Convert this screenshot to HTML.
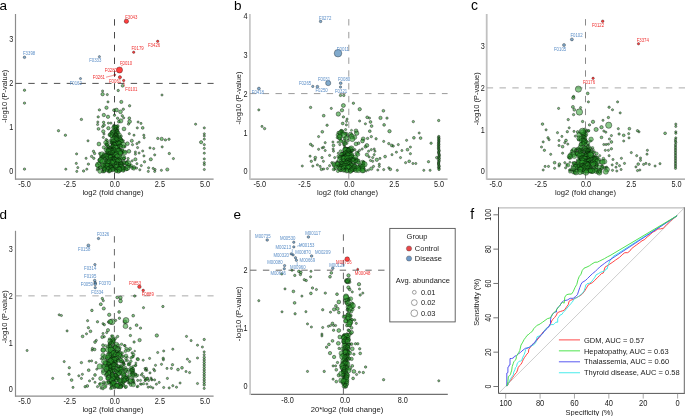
<!DOCTYPE html><html><head><meta charset="utf-8"><style>html,body{margin:0;padding:0;background:#fff;}svg{display:block;}#w{will-change:transform;width:685px;height:416px;overflow:hidden;}</style></head><body>
<div id="w">
<svg width="685" height="416" viewBox="0 0 685 416" font-family='"Liberation Sans", sans-serif'>
<rect width="685" height="416" fill="#fff"/><g>
<line x1="15.50" y1="179.20" x2="213.60" y2="179.20" stroke="#8c8c8c" stroke-width="1.2"/>
<line x1="15.50" y1="14.00" x2="15.50" y2="179.80" stroke="#8c8c8c" stroke-width="1.2"/>
<text x="11.20" y="173.76" font-size="8.91" text-anchor="middle" fill="#1a1a1a" textLength="4.06" lengthAdjust="spacingAndGlyphs">0</text>
<text x="11.20" y="129.96" font-size="8.91" text-anchor="middle" fill="#1a1a1a" textLength="4.06" lengthAdjust="spacingAndGlyphs">1</text>
<text x="11.20" y="86.16" font-size="8.91" text-anchor="middle" fill="#1a1a1a" textLength="4.06" lengthAdjust="spacingAndGlyphs">2</text>
<text x="11.20" y="42.36" font-size="8.91" text-anchor="middle" fill="#1a1a1a" textLength="4.06" lengthAdjust="spacingAndGlyphs">3</text>
<text x="24.60" y="187.36" font-size="8.91" text-anchor="middle" fill="#1a1a1a" textLength="12.58" lengthAdjust="spacingAndGlyphs">-5.0</text>
<text x="69.70" y="187.36" font-size="8.91" text-anchor="middle" fill="#1a1a1a" textLength="12.58" lengthAdjust="spacingAndGlyphs">-2.5</text>
<text x="114.80" y="187.36" font-size="8.91" text-anchor="middle" fill="#1a1a1a" textLength="10.15" lengthAdjust="spacingAndGlyphs">0.0</text>
<text x="159.90" y="187.36" font-size="8.91" text-anchor="middle" fill="#1a1a1a" textLength="10.15" lengthAdjust="spacingAndGlyphs">2.5</text>
<text x="205.00" y="187.36" font-size="8.91" text-anchor="middle" fill="#1a1a1a" textLength="10.15" lengthAdjust="spacingAndGlyphs">5.0</text>
<text x="113.00" y="195.12" font-size="7.65" text-anchor="middle" fill="#1a1a1a">log2 (fold change)</text>
<text x="4.20" y="98.84" font-size="7.45" text-anchor="middle" fill="#1a1a1a" transform="rotate(-90 4.20 96.20)">-log10 (P-value)</text>
<line x1="15.50" y1="83.40" x2="213.60" y2="83.40" stroke="#505050" stroke-width="1.0" stroke-dasharray="6.4 6.4"/>
<line x1="114.50" y1="179.20" x2="114.50" y2="14.00" stroke="#4a4a4a" stroke-width="1.0" stroke-dasharray="6.4 6.4"/>
<text x="-0.5" y="9.8" font-size="13.5" fill="#000">a</text>
<line x1="249.90" y1="179.10" x2="447.60" y2="179.10" stroke="#999" stroke-width="1.3"/>
<line x1="249.90" y1="14.00" x2="249.90" y2="179.75" stroke="#c8c8c8" stroke-width="1.8"/>
<text x="245.60" y="174.46" font-size="8.91" text-anchor="middle" fill="#1a1a1a" textLength="4.06" lengthAdjust="spacingAndGlyphs">0</text>
<text x="245.60" y="135.61" font-size="8.91" text-anchor="middle" fill="#1a1a1a" textLength="4.06" lengthAdjust="spacingAndGlyphs">1</text>
<text x="245.60" y="96.76" font-size="8.91" text-anchor="middle" fill="#1a1a1a" textLength="4.06" lengthAdjust="spacingAndGlyphs">2</text>
<text x="245.60" y="57.91" font-size="8.91" text-anchor="middle" fill="#1a1a1a" textLength="4.06" lengthAdjust="spacingAndGlyphs">3</text>
<text x="245.60" y="19.06" font-size="8.91" text-anchor="middle" fill="#1a1a1a" textLength="4.06" lengthAdjust="spacingAndGlyphs">4</text>
<text x="259.80" y="187.46" font-size="8.91" text-anchor="middle" fill="#1a1a1a" textLength="12.58" lengthAdjust="spacingAndGlyphs">-5.0</text>
<text x="304.60" y="187.46" font-size="8.91" text-anchor="middle" fill="#1a1a1a" textLength="12.58" lengthAdjust="spacingAndGlyphs">-2.5</text>
<text x="349.40" y="187.46" font-size="8.91" text-anchor="middle" fill="#1a1a1a" textLength="10.15" lengthAdjust="spacingAndGlyphs">0.0</text>
<text x="394.20" y="187.46" font-size="8.91" text-anchor="middle" fill="#1a1a1a" textLength="10.15" lengthAdjust="spacingAndGlyphs">2.5</text>
<text x="439.00" y="187.46" font-size="8.91" text-anchor="middle" fill="#1a1a1a" textLength="10.15" lengthAdjust="spacingAndGlyphs">5.0</text>
<text x="347.50" y="194.92" font-size="7.65" text-anchor="middle" fill="#1a1a1a">log2 (fold change)</text>
<text x="238.10" y="100.64" font-size="7.45" text-anchor="middle" fill="#1a1a1a" transform="rotate(-90 238.10 98.00)">-log10 (P-value)</text>
<line x1="249.90" y1="93.60" x2="447.60" y2="93.60" stroke="#9a9a9a" stroke-width="1.0" stroke-dasharray="6.4 6.4"/>
<line x1="348.80" y1="179.10" x2="348.80" y2="14.00" stroke="#9a9a9a" stroke-width="1.0" stroke-dasharray="6.4 6.4"/>
<text x="234.0" y="9.8" font-size="13.5" fill="#000">b</text>
<line x1="486.70" y1="179.10" x2="686.00" y2="179.10" stroke="#999" stroke-width="1.3"/>
<line x1="486.70" y1="14.00" x2="486.70" y2="179.75" stroke="#c0c0c0" stroke-width="1.8"/>
<text x="482.70" y="174.26" font-size="8.91" text-anchor="middle" fill="#1a1a1a" textLength="4.06" lengthAdjust="spacingAndGlyphs">0</text>
<text x="482.70" y="132.66" font-size="8.91" text-anchor="middle" fill="#1a1a1a" textLength="4.06" lengthAdjust="spacingAndGlyphs">1</text>
<text x="482.70" y="91.06" font-size="8.91" text-anchor="middle" fill="#1a1a1a" textLength="4.06" lengthAdjust="spacingAndGlyphs">2</text>
<text x="482.70" y="49.46" font-size="8.91" text-anchor="middle" fill="#1a1a1a" textLength="4.06" lengthAdjust="spacingAndGlyphs">3</text>
<text x="495.70" y="187.06" font-size="8.91" text-anchor="middle" fill="#1a1a1a" textLength="12.58" lengthAdjust="spacingAndGlyphs">-5.0</text>
<text x="540.90" y="187.06" font-size="8.91" text-anchor="middle" fill="#1a1a1a" textLength="12.58" lengthAdjust="spacingAndGlyphs">-2.5</text>
<text x="586.10" y="187.06" font-size="8.91" text-anchor="middle" fill="#1a1a1a" textLength="10.15" lengthAdjust="spacingAndGlyphs">0.0</text>
<text x="631.30" y="187.06" font-size="8.91" text-anchor="middle" fill="#1a1a1a" textLength="10.15" lengthAdjust="spacingAndGlyphs">2.5</text>
<text x="676.50" y="187.06" font-size="8.91" text-anchor="middle" fill="#1a1a1a" textLength="10.15" lengthAdjust="spacingAndGlyphs">5.0</text>
<text x="585.50" y="195.02" font-size="7.65" text-anchor="middle" fill="#1a1a1a">log2 (fold change)</text>
<text x="476.10" y="101.34" font-size="7.45" text-anchor="middle" fill="#1a1a1a" transform="rotate(-90 476.10 98.70)">-log10 (P-value)</text>
<line x1="486.70" y1="87.90" x2="686.00" y2="87.90" stroke="#aaa" stroke-width="1.0" stroke-dasharray="6.4 6.4"/>
<line x1="585.50" y1="179.10" x2="585.50" y2="14.00" stroke="#8a8a8a" stroke-width="1.0" stroke-dasharray="6.4 6.4"/>
<text x="470.9" y="9.8" font-size="14" fill="#000">c</text>
<line x1="15.50" y1="396.20" x2="213.60" y2="396.20" stroke="#8c8c8c" stroke-width="1.2"/>
<line x1="15.50" y1="230.80" x2="15.50" y2="396.80" stroke="#8c8c8c" stroke-width="1.2"/>
<text x="10.90" y="392.16" font-size="8.91" text-anchor="middle" fill="#1a1a1a" textLength="4.06" lengthAdjust="spacingAndGlyphs">0</text>
<text x="10.90" y="345.59" font-size="8.91" text-anchor="middle" fill="#1a1a1a" textLength="4.06" lengthAdjust="spacingAndGlyphs">1</text>
<text x="10.90" y="299.02" font-size="8.91" text-anchor="middle" fill="#1a1a1a" textLength="4.06" lengthAdjust="spacingAndGlyphs">2</text>
<text x="10.90" y="252.45" font-size="8.91" text-anchor="middle" fill="#1a1a1a" textLength="4.06" lengthAdjust="spacingAndGlyphs">3</text>
<text x="24.60" y="403.76" font-size="8.91" text-anchor="middle" fill="#1a1a1a" textLength="12.58" lengthAdjust="spacingAndGlyphs">-5.0</text>
<text x="69.70" y="403.76" font-size="8.91" text-anchor="middle" fill="#1a1a1a" textLength="12.58" lengthAdjust="spacingAndGlyphs">-2.5</text>
<text x="114.80" y="403.76" font-size="8.91" text-anchor="middle" fill="#1a1a1a" textLength="10.15" lengthAdjust="spacingAndGlyphs">0.0</text>
<text x="159.90" y="403.76" font-size="8.91" text-anchor="middle" fill="#1a1a1a" textLength="10.15" lengthAdjust="spacingAndGlyphs">2.5</text>
<text x="205.00" y="403.76" font-size="8.91" text-anchor="middle" fill="#1a1a1a" textLength="10.15" lengthAdjust="spacingAndGlyphs">5.0</text>
<text x="113.00" y="412.32" font-size="7.65" text-anchor="middle" fill="#1a1a1a">log2 (fold change)</text>
<text x="4.00" y="319.44" font-size="7.45" text-anchor="middle" fill="#1a1a1a" transform="rotate(-90 4.00 316.80)">-log10 (P-value)</text>
<line x1="15.50" y1="295.86" x2="213.60" y2="295.86" stroke="#aaa" stroke-width="1.0" stroke-dasharray="6.4 6.4"/>
<line x1="114.40" y1="396.20" x2="114.40" y2="230.80" stroke="#666" stroke-width="1.0" stroke-dasharray="6.4 6.4"/>
<text x="-0.5" y="218.8" font-size="13.5" fill="#000">d</text>
<line x1="250.10" y1="394.30" x2="447.80" y2="394.30" stroke="#707070" stroke-width="1.2"/>
<line x1="250.10" y1="230.00" x2="250.10" y2="394.90" stroke="#c8c8c8" stroke-width="1.8"/>
<text x="245.60" y="389.46" font-size="8.91" text-anchor="middle" fill="#1a1a1a" textLength="4.06" lengthAdjust="spacingAndGlyphs">0</text>
<text x="245.60" y="331.06" font-size="8.91" text-anchor="middle" fill="#1a1a1a" textLength="4.06" lengthAdjust="spacingAndGlyphs">1</text>
<text x="245.60" y="272.66" font-size="8.91" text-anchor="middle" fill="#1a1a1a" textLength="4.06" lengthAdjust="spacingAndGlyphs">2</text>
<text x="287.50" y="403.16" font-size="8.91" text-anchor="middle" fill="#1a1a1a" textLength="12.58" lengthAdjust="spacingAndGlyphs">-8.0</text>
<text x="345.10" y="403.16" font-size="8.91" text-anchor="middle" fill="#1a1a1a" textLength="10.15" lengthAdjust="spacingAndGlyphs">0.0</text>
<text x="402.70" y="403.16" font-size="8.91" text-anchor="middle" fill="#1a1a1a" textLength="10.15" lengthAdjust="spacingAndGlyphs">8.0</text>
<text x="347.00" y="411.92" font-size="7.65" text-anchor="middle" fill="#1a1a1a">20*log2 (fold change)</text>
<text x="237.90" y="316.53" font-size="7.7" text-anchor="middle" fill="#1a1a1a" transform="rotate(-90 237.90 313.80)">-log10 (P-value)</text>
<line x1="250.10" y1="270.20" x2="385.00" y2="270.20" stroke="#666" stroke-width="1.0" stroke-dasharray="6.4 6.4"/>
<line x1="343.40" y1="394.30" x2="343.40" y2="230.00" stroke="#666" stroke-width="1.0" stroke-dasharray="6.4 6.4"/>
<text x="233.5" y="219.2" font-size="13.5" fill="#000">e</text>
<g fill="#2a9a2a" fill-opacity="0.6" stroke="#000" stroke-opacity="0.8" stroke-width="0.5"><circle cx="24.5" cy="90.2" r="1.20"/><circle cx="24.5" cy="103.1" r="1.20"/><circle cx="81.4" cy="119.4" r="1.20"/><circle cx="58.5" cy="130.7" r="1.20"/><circle cx="65.4" cy="135.2" r="1.20"/><circle cx="102.6" cy="91.0" r="1.10"/><circle cx="102.6" cy="94.2" r="1.70"/><circle cx="107.3" cy="94.6" r="1.10"/><circle cx="108.0" cy="101.9" r="1.10"/><circle cx="106.5" cy="107.7" r="1.70"/><circle cx="99.4" cy="109.9" r="1.20"/><circle cx="103.8" cy="115.0" r="1.70"/><circle cx="108.0" cy="116.8" r="1.70"/><circle cx="98.2" cy="116.9" r="1.20"/><circle cx="97.8" cy="122.0" r="1.10"/><circle cx="103.6" cy="122.3" r="1.20"/><circle cx="108.4" cy="123.1" r="1.10"/><circle cx="110.9" cy="123.1" r="1.10"/><circle cx="97.6" cy="124.5" r="1.10"/><circle cx="102.6" cy="126.7" r="1.10"/><circle cx="98.5" cy="128.9" r="1.40"/><circle cx="108.4" cy="128.2" r="1.70"/><circle cx="103.3" cy="131.4" r="1.70"/><circle cx="104.0" cy="134.0" r="1.10"/><circle cx="103.3" cy="137.4" r="1.10"/><circle cx="122.6" cy="85.8" r="1.40"/><circle cx="118.2" cy="90.5" r="1.20"/><circle cx="162.0" cy="95.0" r="1.10"/><circle cx="121.3" cy="101.9" r="1.60"/><circle cx="129.6" cy="105.8" r="1.20"/><circle cx="116.5" cy="110.0" r="1.90"/><circle cx="120.5" cy="111.8" r="1.90"/><circle cx="123.3" cy="109.2" r="1.20"/><circle cx="122.3" cy="115.8" r="1.20"/><circle cx="117.6" cy="118.2" r="1.20"/><circle cx="120.8" cy="120.9" r="2.10"/><circle cx="129.3" cy="118.2" r="1.40"/><circle cx="129.6" cy="121.6" r="1.90"/><circle cx="124.0" cy="128.9" r="1.90"/><circle cx="138.1" cy="122.0" r="1.10"/><circle cx="141.0" cy="123.4" r="1.10"/><circle cx="137.3" cy="127.9" r="1.10"/><circle cx="142.7" cy="127.9" r="1.40"/><circle cx="195.6" cy="124.2" r="1.10"/><circle cx="129.3" cy="133.7" r="1.10"/><circle cx="134.0" cy="135.2" r="1.10"/><circle cx="143.8" cy="135.2" r="1.10"/><circle cx="144.2" cy="137.7" r="1.10"/><circle cx="157.8" cy="138.4" r="1.20"/><circle cx="161.7" cy="138.9" r="1.70"/><circle cx="165.4" cy="139.9" r="1.20"/><circle cx="169.0" cy="139.2" r="1.20"/><circle cx="88.0" cy="140.8" r="1.10"/><circle cx="106.2" cy="139.6" r="1.20"/><circle cx="98.9" cy="144.0" r="1.90"/><circle cx="106.7" cy="144.7" r="1.20"/><circle cx="76.6" cy="153.9" r="1.10"/><circle cx="86.1" cy="158.3" r="1.10"/><circle cx="93.5" cy="151.3" r="1.20"/><circle cx="94.6" cy="153.5" r="1.20"/><circle cx="91.6" cy="156.4" r="1.20"/><circle cx="93.8" cy="158.3" r="1.20"/><circle cx="99.7" cy="153.5" r="1.20"/><circle cx="101.1" cy="156.4" r="1.20"/><circle cx="98.9" cy="160.0" r="1.20"/><circle cx="76.3" cy="163.4" r="1.10"/><circle cx="88.4" cy="164.1" r="1.20"/><circle cx="77.8" cy="167.6" r="1.10"/><circle cx="24.5" cy="169.1" r="1.20"/><circle cx="65.8" cy="169.2" r="1.10"/><circle cx="76.8" cy="171.4" r="1.10"/><circle cx="83.6" cy="171.0" r="1.20"/><circle cx="86.8" cy="169.2" r="1.10"/><circle cx="99.7" cy="167.3" r="1.20"/><circle cx="98.9" cy="168.8" r="1.20"/><circle cx="102.6" cy="171.7" r="1.20"/><circle cx="131.8" cy="140.8" r="1.60"/><circle cx="127.4" cy="143.7" r="1.90"/><circle cx="132.5" cy="144.7" r="1.10"/><circle cx="136.9" cy="143.7" r="1.10"/><circle cx="139.1" cy="142.2" r="1.10"/><circle cx="137.6" cy="147.6" r="1.10"/><circle cx="150.0" cy="147.9" r="1.10"/><circle cx="153.7" cy="148.6" r="1.10"/><circle cx="162.2" cy="146.9" r="1.10"/><circle cx="125.2" cy="152.0" r="1.20"/><circle cx="128.9" cy="151.3" r="1.90"/><circle cx="135.4" cy="152.0" r="1.10"/><circle cx="139.1" cy="153.0" r="1.10"/><circle cx="142.7" cy="151.0" r="1.10"/><circle cx="135.4" cy="154.2" r="1.10"/><circle cx="143.9" cy="155.9" r="1.10"/><circle cx="154.7" cy="154.9" r="1.10"/><circle cx="169.3" cy="153.5" r="1.20"/><circle cx="128.1" cy="158.6" r="1.20"/><circle cx="132.2" cy="160.8" r="1.10"/><circle cx="135.4" cy="159.3" r="1.60"/><circle cx="150.8" cy="159.3" r="1.60"/><circle cx="173.4" cy="158.6" r="1.10"/><circle cx="136.9" cy="163.7" r="1.10"/><circle cx="141.3" cy="165.6" r="1.10"/><circle cx="144.5" cy="161.8" r="1.20"/><circle cx="134.0" cy="167.3" r="1.70"/><circle cx="136.6" cy="168.1" r="1.10"/><circle cx="139.8" cy="169.8" r="1.10"/><circle cx="148.6" cy="167.8" r="1.10"/><circle cx="148.3" cy="171.4" r="1.10"/><circle cx="153.2" cy="168.4" r="1.10"/><circle cx="155.1" cy="169.5" r="1.10"/><circle cx="154.7" cy="171.4" r="1.10"/><circle cx="161.4" cy="170.3" r="1.10"/><circle cx="167.3" cy="169.5" r="1.60"/><circle cx="201.1" cy="142.2" r="1.60"/><circle cx="114.0" cy="110.2" r="1.40"/><circle cx="114.5" cy="115.2" r="1.20"/><circle cx="123.7" cy="117.9" r="1.10"/><circle cx="118.8" cy="121.7" r="1.40"/><circle cx="104.0" cy="125.1" r="1.40"/><circle cx="114.0" cy="125.6" r="1.40"/><circle cx="115.5" cy="128.0" r="1.40"/><circle cx="128.5" cy="124.1" r="1.20"/><circle cx="204.3" cy="127.9" r="1.10"/><circle cx="204.3" cy="133.8" r="1.10"/><circle cx="204.3" cy="136.0" r="1.10"/><circle cx="204.3" cy="139.2" r="1.10"/><circle cx="204.3" cy="144.7" r="1.10"/><circle cx="204.3" cy="148.4" r="1.10"/><circle cx="204.3" cy="153.2" r="1.10"/><circle cx="204.3" cy="158.9" r="1.10"/><circle cx="204.3" cy="162.7" r="1.10"/><circle cx="204.3" cy="164.7" r="1.10"/><circle cx="204.3" cy="169.5" r="1.10"/></g>
<g fill="#2a9a2a" fill-opacity="0.6" stroke="#000" stroke-opacity="0.7" stroke-width="0.45"><circle cx="117.4" cy="126.4" r="1.23"/><circle cx="117.7" cy="126.0" r="1.54"/><circle cx="113.8" cy="126.4" r="1.01"/><circle cx="113.1" cy="127.5" r="1.51"/><circle cx="115.5" cy="127.9" r="2.10"/><circle cx="115.4" cy="127.6" r="2.65"/><circle cx="115.9" cy="127.2" r="1.72"/><circle cx="115.2" cy="129.7" r="1.42"/><circle cx="115.9" cy="128.2" r="1.19"/><circle cx="117.5" cy="128.9" r="1.63"/><circle cx="115.7" cy="129.6" r="1.56"/><circle cx="117.0" cy="129.7" r="1.01"/><circle cx="116.9" cy="130.2" r="1.14"/><circle cx="113.1" cy="131.8" r="2.44"/><circle cx="117.0" cy="131.4" r="2.08"/><circle cx="116.9" cy="131.7" r="1.49"/><circle cx="117.2" cy="131.7" r="1.81"/><circle cx="112.4" cy="132.6" r="2.40"/><circle cx="112.3" cy="131.3" r="1.22"/><circle cx="115.4" cy="132.5" r="1.48"/><circle cx="117.0" cy="133.3" r="2.00"/><circle cx="118.3" cy="132.8" r="1.52"/><circle cx="111.1" cy="133.0" r="1.44"/><circle cx="115.3" cy="133.0" r="1.01"/><circle cx="119.6" cy="134.8" r="1.82"/><circle cx="116.6" cy="133.8" r="1.13"/><circle cx="109.9" cy="134.4" r="1.71"/><circle cx="115.4" cy="134.6" r="1.20"/><circle cx="109.6" cy="135.1" r="1.56"/><circle cx="114.9" cy="134.6" r="1.73"/><circle cx="115.8" cy="135.5" r="2.34"/><circle cx="115.4" cy="135.6" r="2.15"/><circle cx="116.8" cy="136.1" r="1.50"/><circle cx="112.1" cy="135.3" r="2.46"/><circle cx="113.7" cy="136.0" r="1.61"/><circle cx="114.6" cy="135.8" r="1.37"/><circle cx="111.4" cy="136.2" r="1.56"/><circle cx="114.4" cy="136.2" r="1.20"/><circle cx="117.3" cy="137.6" r="2.28"/><circle cx="119.2" cy="137.5" r="2.33"/><circle cx="115.3" cy="137.3" r="1.04"/><circle cx="121.5" cy="136.2" r="1.00"/><circle cx="115.6" cy="137.4" r="1.89"/><circle cx="113.0" cy="137.8" r="1.03"/><circle cx="117.7" cy="137.5" r="1.26"/><circle cx="118.9" cy="138.3" r="1.55"/><circle cx="113.9" cy="137.2" r="1.43"/><circle cx="119.0" cy="138.9" r="1.15"/><circle cx="121.2" cy="139.0" r="1.17"/><circle cx="120.1" cy="139.2" r="2.33"/><circle cx="116.0" cy="138.4" r="2.10"/><circle cx="115.5" cy="138.5" r="2.06"/><circle cx="113.2" cy="139.6" r="2.73"/><circle cx="111.0" cy="140.5" r="1.67"/><circle cx="116.2" cy="139.8" r="1.79"/><circle cx="120.6" cy="139.7" r="1.90"/><circle cx="118.2" cy="140.7" r="2.47"/><circle cx="116.4" cy="139.7" r="2.43"/><circle cx="111.6" cy="141.4" r="1.48"/><circle cx="123.4" cy="140.6" r="1.00"/><circle cx="115.9" cy="141.5" r="2.70"/><circle cx="114.4" cy="141.1" r="1.13"/><circle cx="122.4" cy="141.3" r="1.65"/><circle cx="107.2" cy="140.8" r="1.37"/><circle cx="116.7" cy="141.9" r="1.15"/><circle cx="121.0" cy="141.4" r="1.98"/><circle cx="113.6" cy="141.7" r="2.46"/><circle cx="119.7" cy="142.6" r="1.00"/><circle cx="116.1" cy="142.8" r="2.25"/><circle cx="118.6" cy="141.7" r="1.18"/><circle cx="111.3" cy="142.7" r="1.36"/><circle cx="107.4" cy="143.6" r="2.03"/><circle cx="105.7" cy="142.6" r="2.11"/><circle cx="116.1" cy="142.3" r="1.13"/><circle cx="117.5" cy="143.4" r="1.84"/><circle cx="113.3" cy="143.5" r="1.40"/><circle cx="112.9" cy="143.6" r="1.84"/><circle cx="118.0" cy="143.7" r="2.50"/><circle cx="118.6" cy="143.4" r="1.01"/><circle cx="119.2" cy="143.3" r="2.45"/><circle cx="116.8" cy="143.7" r="1.87"/><circle cx="106.3" cy="144.5" r="1.42"/><circle cx="111.8" cy="143.3" r="1.25"/><circle cx="113.3" cy="144.6" r="1.76"/><circle cx="119.3" cy="143.6" r="2.26"/><circle cx="112.2" cy="145.5" r="1.00"/><circle cx="113.6" cy="144.4" r="2.50"/><circle cx="112.7" cy="144.3" r="1.21"/><circle cx="119.7" cy="144.4" r="1.12"/><circle cx="114.2" cy="144.6" r="2.16"/><circle cx="123.2" cy="144.8" r="2.72"/><circle cx="121.1" cy="145.7" r="1.29"/><circle cx="114.5" cy="144.4" r="1.95"/><circle cx="120.3" cy="145.3" r="1.00"/><circle cx="118.7" cy="146.2" r="1.54"/><circle cx="114.0" cy="145.7" r="1.03"/><circle cx="125.1" cy="146.8" r="1.07"/><circle cx="107.5" cy="145.5" r="1.87"/><circle cx="120.8" cy="146.3" r="1.97"/><circle cx="113.7" cy="145.6" r="1.72"/><circle cx="113.1" cy="145.3" r="1.27"/><circle cx="118.0" cy="147.8" r="1.54"/><circle cx="110.1" cy="147.7" r="1.44"/><circle cx="108.3" cy="146.7" r="1.34"/><circle cx="110.3" cy="147.6" r="1.30"/><circle cx="123.5" cy="146.7" r="1.72"/><circle cx="108.2" cy="146.6" r="1.01"/><circle cx="111.1" cy="146.6" r="1.04"/><circle cx="112.5" cy="146.3" r="1.91"/><circle cx="113.6" cy="147.7" r="2.27"/><circle cx="103.8" cy="147.4" r="1.64"/><circle cx="114.7" cy="148.5" r="1.04"/><circle cx="117.3" cy="148.4" r="2.76"/><circle cx="113.2" cy="148.5" r="1.33"/><circle cx="119.2" cy="148.7" r="1.29"/><circle cx="118.2" cy="148.6" r="1.10"/><circle cx="115.4" cy="147.7" r="2.54"/><circle cx="113.4" cy="149.5" r="2.56"/><circle cx="118.9" cy="149.3" r="1.14"/><circle cx="106.7" cy="148.9" r="1.11"/><circle cx="112.4" cy="148.6" r="1.03"/><circle cx="106.4" cy="149.7" r="2.31"/><circle cx="107.8" cy="149.6" r="1.55"/><circle cx="112.1" cy="148.8" r="1.35"/><circle cx="114.1" cy="149.2" r="1.48"/><circle cx="115.2" cy="150.1" r="1.03"/><circle cx="112.2" cy="149.4" r="1.24"/><circle cx="116.3" cy="150.5" r="1.45"/><circle cx="108.0" cy="149.6" r="1.00"/><circle cx="118.3" cy="150.0" r="1.64"/><circle cx="110.6" cy="150.3" r="2.13"/><circle cx="109.3" cy="149.6" r="1.63"/><circle cx="110.2" cy="149.9" r="1.76"/><circle cx="114.5" cy="150.7" r="2.58"/><circle cx="112.6" cy="150.3" r="1.03"/><circle cx="121.5" cy="151.0" r="2.48"/><circle cx="118.8" cy="151.6" r="1.31"/><circle cx="121.6" cy="151.3" r="2.41"/><circle cx="108.0" cy="151.4" r="1.83"/><circle cx="119.9" cy="151.6" r="2.53"/><circle cx="120.6" cy="150.5" r="1.23"/><circle cx="112.1" cy="150.5" r="1.77"/><circle cx="113.9" cy="151.3" r="2.09"/><circle cx="111.8" cy="151.8" r="1.67"/><circle cx="118.1" cy="151.3" r="2.75"/><circle cx="121.1" cy="152.5" r="1.90"/><circle cx="112.3" cy="152.7" r="1.09"/><circle cx="124.8" cy="152.4" r="2.39"/><circle cx="109.1" cy="151.9" r="2.60"/><circle cx="106.5" cy="152.8" r="1.43"/><circle cx="115.5" cy="151.5" r="1.33"/><circle cx="108.2" cy="151.4" r="2.56"/><circle cx="116.0" cy="153.2" r="1.47"/><circle cx="112.7" cy="152.4" r="1.29"/><circle cx="113.5" cy="152.2" r="1.15"/><circle cx="122.4" cy="152.9" r="1.01"/><circle cx="108.3" cy="153.5" r="1.17"/><circle cx="108.1" cy="152.7" r="1.72"/><circle cx="112.4" cy="152.6" r="2.02"/><circle cx="120.5" cy="153.5" r="2.31"/><circle cx="120.1" cy="153.0" r="2.42"/><circle cx="112.1" cy="154.4" r="1.78"/><circle cx="109.9" cy="153.4" r="2.31"/><circle cx="116.2" cy="153.4" r="2.16"/><circle cx="102.0" cy="154.4" r="2.73"/><circle cx="109.3" cy="153.4" r="1.64"/><circle cx="109.0" cy="154.0" r="1.38"/><circle cx="111.1" cy="154.0" r="1.00"/><circle cx="107.7" cy="153.7" r="1.45"/><circle cx="115.3" cy="154.5" r="2.02"/><circle cx="105.2" cy="154.8" r="1.17"/><circle cx="113.4" cy="154.2" r="1.26"/><circle cx="103.9" cy="155.5" r="1.66"/><circle cx="106.5" cy="155.8" r="1.56"/><circle cx="115.8" cy="155.4" r="2.77"/><circle cx="108.2" cy="154.7" r="1.13"/><circle cx="108.2" cy="154.8" r="1.00"/><circle cx="108.5" cy="154.8" r="1.50"/><circle cx="104.1" cy="155.1" r="2.13"/><circle cx="119.5" cy="156.6" r="2.17"/><circle cx="103.9" cy="156.2" r="1.94"/><circle cx="113.6" cy="156.2" r="1.47"/><circle cx="107.7" cy="156.7" r="2.25"/><circle cx="107.4" cy="156.6" r="2.21"/><circle cx="116.3" cy="155.8" r="1.24"/><circle cx="106.1" cy="156.3" r="2.47"/><circle cx="110.1" cy="156.5" r="1.61"/><circle cx="112.3" cy="155.9" r="1.02"/><circle cx="103.7" cy="156.9" r="1.38"/><circle cx="112.8" cy="157.3" r="1.00"/><circle cx="101.2" cy="157.3" r="1.46"/><circle cx="112.8" cy="157.3" r="1.85"/><circle cx="114.4" cy="157.6" r="1.25"/><circle cx="117.3" cy="156.3" r="2.36"/><circle cx="107.8" cy="157.0" r="2.14"/><circle cx="112.6" cy="156.5" r="1.95"/><circle cx="110.9" cy="156.6" r="1.86"/><circle cx="102.7" cy="157.6" r="1.76"/><circle cx="118.7" cy="158.6" r="1.34"/><circle cx="123.1" cy="157.6" r="2.70"/><circle cx="110.4" cy="157.2" r="2.54"/><circle cx="102.2" cy="158.2" r="1.32"/><circle cx="104.2" cy="158.5" r="1.15"/><circle cx="117.9" cy="158.2" r="1.12"/><circle cx="120.1" cy="158.7" r="2.12"/><circle cx="112.5" cy="158.2" r="1.24"/><circle cx="110.3" cy="157.4" r="2.09"/><circle cx="113.2" cy="158.8" r="2.17"/><circle cx="114.4" cy="159.3" r="1.30"/><circle cx="123.9" cy="158.4" r="1.45"/><circle cx="110.9" cy="158.5" r="1.02"/><circle cx="113.9" cy="159.2" r="2.51"/><circle cx="114.2" cy="159.3" r="2.32"/><circle cx="115.5" cy="159.7" r="1.86"/><circle cx="107.1" cy="158.4" r="2.04"/><circle cx="123.9" cy="158.4" r="1.45"/><circle cx="107.6" cy="158.5" r="1.20"/><circle cx="114.2" cy="160.5" r="1.57"/><circle cx="110.0" cy="160.3" r="1.34"/><circle cx="111.8" cy="160.1" r="2.56"/><circle cx="116.0" cy="160.5" r="2.43"/><circle cx="113.9" cy="159.7" r="1.43"/><circle cx="101.0" cy="159.8" r="2.49"/><circle cx="106.9" cy="160.4" r="1.11"/><circle cx="115.0" cy="159.4" r="1.98"/><circle cx="113.4" cy="159.3" r="1.42"/><circle cx="119.0" cy="160.5" r="2.55"/><circle cx="119.4" cy="159.3" r="1.03"/><circle cx="115.2" cy="160.6" r="1.07"/><circle cx="112.4" cy="160.3" r="1.01"/><circle cx="106.7" cy="161.3" r="2.40"/><circle cx="105.4" cy="161.3" r="1.44"/><circle cx="101.7" cy="161.2" r="1.22"/><circle cx="100.7" cy="160.3" r="2.63"/><circle cx="108.7" cy="161.2" r="1.75"/><circle cx="110.7" cy="161.0" r="1.03"/><circle cx="109.8" cy="160.5" r="2.49"/><circle cx="119.8" cy="160.9" r="1.97"/><circle cx="111.5" cy="161.4" r="2.17"/><circle cx="102.6" cy="161.6" r="2.74"/><circle cx="123.6" cy="162.6" r="2.42"/><circle cx="127.3" cy="161.3" r="1.05"/><circle cx="117.3" cy="161.8" r="2.76"/><circle cx="106.7" cy="161.3" r="1.70"/><circle cx="110.7" cy="161.8" r="2.07"/><circle cx="115.5" cy="162.6" r="1.01"/><circle cx="111.1" cy="162.5" r="1.05"/><circle cx="113.7" cy="161.3" r="1.43"/><circle cx="113.5" cy="161.4" r="2.27"/><circle cx="108.0" cy="162.5" r="2.43"/><circle cx="111.7" cy="161.6" r="1.75"/><circle cx="121.7" cy="162.7" r="1.35"/><circle cx="118.2" cy="163.1" r="1.06"/><circle cx="98.7" cy="163.2" r="1.54"/><circle cx="126.2" cy="163.5" r="2.06"/><circle cx="113.4" cy="163.1" r="2.53"/><circle cx="117.4" cy="162.5" r="1.41"/><circle cx="108.9" cy="163.0" r="1.05"/><circle cx="108.8" cy="162.3" r="2.32"/><circle cx="122.4" cy="163.2" r="1.32"/><circle cx="112.2" cy="162.7" r="2.17"/><circle cx="121.0" cy="163.0" r="1.69"/><circle cx="124.2" cy="162.7" r="1.34"/><circle cx="128.3" cy="163.3" r="2.74"/><circle cx="98.2" cy="164.7" r="2.72"/><circle cx="116.6" cy="164.5" r="2.60"/><circle cx="126.8" cy="163.4" r="1.68"/><circle cx="107.8" cy="164.1" r="2.78"/><circle cx="117.0" cy="164.4" r="1.39"/><circle cx="102.5" cy="164.7" r="1.93"/><circle cx="107.3" cy="164.8" r="1.70"/><circle cx="119.4" cy="163.5" r="1.10"/><circle cx="110.5" cy="164.7" r="1.14"/><circle cx="105.1" cy="163.9" r="2.12"/><circle cx="117.8" cy="164.1" r="1.25"/><circle cx="115.5" cy="163.4" r="1.24"/><circle cx="107.8" cy="164.3" r="1.04"/><circle cx="107.2" cy="165.6" r="1.93"/><circle cx="122.0" cy="164.2" r="1.40"/><circle cx="128.8" cy="165.6" r="2.08"/><circle cx="110.9" cy="165.2" r="2.45"/><circle cx="131.2" cy="165.6" r="1.50"/><circle cx="109.9" cy="165.7" r="2.28"/><circle cx="105.4" cy="165.4" r="2.32"/><circle cx="120.7" cy="164.5" r="2.16"/><circle cx="114.4" cy="165.4" r="1.66"/><circle cx="106.3" cy="165.6" r="2.28"/><circle cx="115.2" cy="165.1" r="1.01"/><circle cx="119.8" cy="164.5" r="1.29"/><circle cx="107.2" cy="166.3" r="1.00"/><circle cx="119.8" cy="166.6" r="2.16"/><circle cx="119.5" cy="166.8" r="1.72"/><circle cx="105.1" cy="166.0" r="1.72"/><circle cx="110.0" cy="166.5" r="2.68"/><circle cx="104.8" cy="165.7" r="1.30"/><circle cx="121.0" cy="166.0" r="1.81"/><circle cx="97.3" cy="165.5" r="1.91"/><circle cx="107.6" cy="166.8" r="2.14"/><circle cx="107.3" cy="165.8" r="2.63"/><circle cx="111.4" cy="166.6" r="1.99"/><circle cx="129.9" cy="166.6" r="1.43"/><circle cx="103.4" cy="165.9" r="2.28"/><circle cx="104.8" cy="167.0" r="1.35"/><circle cx="125.0" cy="166.9" r="1.07"/><circle cx="109.3" cy="166.2" r="1.13"/><circle cx="121.8" cy="166.6" r="2.43"/><circle cx="108.8" cy="167.8" r="1.24"/><circle cx="111.0" cy="167.0" r="2.14"/><circle cx="111.5" cy="167.4" r="1.61"/><circle cx="106.2" cy="167.3" r="1.62"/><circle cx="128.1" cy="166.3" r="1.08"/><circle cx="112.3" cy="167.7" r="1.20"/><circle cx="121.2" cy="167.0" r="2.67"/><circle cx="115.8" cy="166.8" r="2.11"/><circle cx="116.6" cy="167.2" r="2.79"/><circle cx="111.6" cy="167.1" r="1.70"/><circle cx="102.8" cy="168.8" r="1.06"/><circle cx="132.3" cy="168.1" r="1.49"/><circle cx="112.8" cy="167.6" r="1.26"/><circle cx="111.0" cy="168.0" r="2.27"/><circle cx="124.5" cy="168.3" r="1.05"/><circle cx="102.9" cy="167.8" r="1.98"/><circle cx="112.0" cy="168.6" r="1.07"/><circle cx="124.9" cy="168.6" r="1.06"/><circle cx="100.5" cy="167.5" r="1.68"/><circle cx="127.4" cy="167.9" r="2.51"/><circle cx="122.1" cy="168.0" r="2.52"/><circle cx="114.5" cy="168.1" r="1.18"/><circle cx="115.4" cy="168.0" r="1.00"/><circle cx="106.9" cy="168.8" r="1.96"/><circle cx="133.8" cy="168.6" r="1.72"/><circle cx="104.4" cy="168.9" r="2.19"/><circle cx="118.6" cy="168.6" r="2.07"/><circle cx="109.6" cy="168.9" r="1.08"/><circle cx="118.9" cy="169.2" r="2.69"/><circle cx="125.9" cy="169.1" r="1.86"/><circle cx="120.5" cy="168.6" r="2.04"/><circle cx="122.5" cy="168.6" r="1.18"/><circle cx="108.2" cy="168.7" r="1.85"/><circle cx="122.5" cy="168.5" r="2.49"/><circle cx="111.2" cy="168.3" r="1.34"/><circle cx="104.5" cy="169.3" r="1.93"/><circle cx="122.2" cy="168.7" r="1.62"/><circle cx="97.5" cy="168.7" r="1.08"/><circle cx="119.4" cy="168.3" r="1.71"/><circle cx="119.9" cy="170.3" r="1.76"/><circle cx="112.4" cy="169.5" r="1.77"/><circle cx="109.2" cy="170.6" r="1.49"/><circle cx="116.5" cy="169.7" r="1.87"/><circle cx="114.9" cy="169.3" r="1.19"/><circle cx="104.4" cy="169.7" r="1.84"/><circle cx="97.1" cy="170.0" r="1.01"/><circle cx="112.6" cy="169.6" r="2.22"/><circle cx="118.9" cy="170.3" r="1.01"/><circle cx="126.9" cy="169.4" r="1.32"/><circle cx="121.2" cy="169.6" r="1.02"/><circle cx="119.4" cy="169.8" r="2.62"/><circle cx="115.7" cy="170.2" r="1.21"/><circle cx="111.9" cy="170.0" r="1.33"/><circle cx="108.9" cy="171.7" r="1.38"/><circle cx="118.4" cy="171.5" r="1.85"/><circle cx="103.9" cy="171.6" r="1.46"/><circle cx="109.9" cy="171.0" r="1.76"/><circle cx="104.6" cy="171.1" r="1.44"/><circle cx="123.8" cy="171.1" r="1.02"/><circle cx="107.9" cy="171.0" r="1.13"/><circle cx="116.5" cy="171.1" r="1.23"/><circle cx="123.0" cy="170.6" r="1.69"/><circle cx="106.7" cy="170.4" r="1.41"/><circle cx="116.0" cy="171.2" r="1.72"/><circle cx="99.9" cy="171.4" r="2.02"/><circle cx="110.4" cy="170.2" r="1.31"/></g>
<g fill="#2a9a2a" fill-opacity="0.55" stroke="#000" stroke-opacity="0.8" stroke-width="0.5"></g>
<g fill="#ff0000" fill-opacity="0.75" stroke="#000" stroke-opacity="0.7" stroke-width="0.45"><circle cx="126.4" cy="21.2" r="2.20"/><circle cx="157.7" cy="41.3" r="1.20"/><circle cx="133.7" cy="52.2" r="1.20"/><circle cx="119.5" cy="70.0" r="3.10"/><circle cx="119.9" cy="77.2" r="1.60"/><circle cx="123.7" cy="80.5" r="1.20"/><circle cx="114.8" cy="74.8" r="0.90"/></g>
<g fill="#4682B4" fill-opacity="0.68" stroke="#000" stroke-opacity="0.7" stroke-width="0.45"><circle cx="24.5" cy="57.3" r="1.30"/><circle cx="99.4" cy="56.7" r="1.10"/><circle cx="80.5" cy="78.6" r="1.10"/></g>
<text x="125.20" y="19.20" font-size="4.8" fill="#f03030" textLength="12.19" lengthAdjust="spacingAndGlyphs">F3043</text>
<text x="148.00" y="46.70" font-size="4.8" fill="#f03030" textLength="12.19" lengthAdjust="spacingAndGlyphs">F3426</text>
<text x="131.50" y="50.30" font-size="4.8" fill="#f03030" textLength="12.19" lengthAdjust="spacingAndGlyphs">F0179</text>
<text x="119.90" y="64.50" font-size="4.8" fill="#f03030" textLength="12.19" lengthAdjust="spacingAndGlyphs">F0010</text>
<text x="104.80" y="71.90" font-size="4.8" fill="#f03030" textLength="12.19" lengthAdjust="spacingAndGlyphs">F0280</text>
<text x="92.80" y="79.20" font-size="4.8" fill="#f03030" textLength="12.19" lengthAdjust="spacingAndGlyphs">F0261</text>
<text x="109.00" y="82.80" font-size="4.8" fill="#f03030" textLength="12.19" lengthAdjust="spacingAndGlyphs">F0061</text>
<text x="125.30" y="90.60" font-size="4.8" fill="#f03030" textLength="12.19" lengthAdjust="spacingAndGlyphs">F0101</text>
<text x="23.00" y="55.20" font-size="4.8" fill="#5b8ec7" textLength="12.19" lengthAdjust="spacingAndGlyphs">F3398</text>
<text x="89.20" y="62.30" font-size="4.8" fill="#5b8ec7" textLength="12.19" lengthAdjust="spacingAndGlyphs">F0333</text>
<text x="69.70" y="84.70" font-size="4.8" fill="#5b8ec7" textLength="12.19" lengthAdjust="spacingAndGlyphs">F0162</text>
<line x1="106.00" y1="77.20" x2="113.90" y2="75.30" stroke="#e83030" stroke-width="0.5"/>
<line x1="121.00" y1="66.00" x2="123.50" y2="64.60" stroke="#e83030" stroke-width="0.5"/>
<line x1="124.70" y1="86.50" x2="123.70" y2="82.00" stroke="#e83030" stroke-width="0.5"/>
<g fill="#2a9a2a" fill-opacity="0.6" stroke="#000" stroke-opacity="0.8" stroke-width="0.5"><circle cx="258.8" cy="109.9" r="1.10"/><circle cx="262.0" cy="126.4" r="1.10"/><circle cx="264.6" cy="128.6" r="1.20"/><circle cx="310.6" cy="107.4" r="1.20"/><circle cx="331.3" cy="108.4" r="1.10"/><circle cx="343.4" cy="105.5" r="2.00"/><circle cx="342.0" cy="110.3" r="1.70"/><circle cx="338.3" cy="114.0" r="2.20"/><circle cx="343.4" cy="116.9" r="1.20"/><circle cx="323.7" cy="115.7" r="1.40"/><circle cx="347.1" cy="119.1" r="1.10"/><circle cx="342.7" cy="123.5" r="1.40"/><circle cx="346.4" cy="124.9" r="1.10"/><circle cx="327.1" cy="125.2" r="1.20"/><circle cx="345.6" cy="129.6" r="1.10"/><circle cx="322.3" cy="131.8" r="1.40"/><circle cx="341.2" cy="130.8" r="1.40"/><circle cx="338.3" cy="132.7" r="1.40"/><circle cx="318.6" cy="136.6" r="1.10"/><circle cx="325.2" cy="142.7" r="1.10"/><circle cx="332.9" cy="142.0" r="1.10"/><circle cx="310.6" cy="144.3" r="1.20"/><circle cx="312.5" cy="145.8" r="1.10"/><circle cx="333.5" cy="145.4" r="1.40"/><circle cx="318.6" cy="149.3" r="1.10"/><circle cx="322.3" cy="147.8" r="1.10"/><circle cx="323.7" cy="147.3" r="1.10"/><circle cx="325.2" cy="150.5" r="1.10"/><circle cx="333.2" cy="149.0" r="1.10"/><circle cx="333.5" cy="151.2" r="1.10"/><circle cx="339.8" cy="144.6" r="1.10"/><circle cx="344.2" cy="145.4" r="1.10"/><circle cx="340.5" cy="95.4" r="1.20"/><circle cx="343.8" cy="95.4" r="1.20"/><circle cx="353.4" cy="103.2" r="1.20"/><circle cx="359.7" cy="109.2" r="1.70"/><circle cx="383.4" cy="110.8" r="1.40"/><circle cx="346.5" cy="121.3" r="1.10"/><circle cx="359.6" cy="121.0" r="1.10"/><circle cx="367.2" cy="117.3" r="1.40"/><circle cx="369.5" cy="118.1" r="1.10"/><circle cx="370.5" cy="122.0" r="1.40"/><circle cx="365.4" cy="123.8" r="1.10"/><circle cx="371.6" cy="126.1" r="1.40"/><circle cx="380.5" cy="117.9" r="1.70"/><circle cx="387.0" cy="118.1" r="1.20"/><circle cx="384.1" cy="124.9" r="1.40"/><circle cx="389.5" cy="131.2" r="1.70"/><circle cx="369.8" cy="131.2" r="1.40"/><circle cx="356.0" cy="130.8" r="1.90"/><circle cx="356.7" cy="133.2" r="2.20"/><circle cx="350.5" cy="134.4" r="2.20"/><circle cx="371.3" cy="136.6" r="1.20"/><circle cx="367.6" cy="138.4" r="1.20"/><circle cx="376.1" cy="138.8" r="1.20"/><circle cx="363.2" cy="138.8" r="1.90"/><circle cx="362.5" cy="141.0" r="1.90"/><circle cx="356.0" cy="143.9" r="1.90"/><circle cx="358.6" cy="143.2" r="1.40"/><circle cx="366.9" cy="145.4" r="1.90"/><circle cx="365.4" cy="146.8" r="1.40"/><circle cx="383.7" cy="141.4" r="1.10"/><circle cx="388.8" cy="143.6" r="1.20"/><circle cx="391.7" cy="145.4" r="1.40"/><circle cx="393.2" cy="146.1" r="1.20"/><circle cx="398.3" cy="144.6" r="1.10"/><circle cx="406.6" cy="140.3" r="1.10"/><circle cx="413.9" cy="137.8" r="1.40"/><circle cx="420.6" cy="138.1" r="1.40"/><circle cx="419.2" cy="133.0" r="1.10"/><circle cx="413.3" cy="121.6" r="1.20"/><circle cx="438.7" cy="120.5" r="1.20"/><circle cx="431.1" cy="143.2" r="1.20"/><circle cx="410.4" cy="147.1" r="1.10"/><circle cx="407.5" cy="149.7" r="1.40"/><circle cx="401.9" cy="150.5" r="1.10"/><circle cx="396.4" cy="152.2" r="1.10"/><circle cx="371.3" cy="149.7" r="1.10"/><circle cx="374.2" cy="149.0" r="1.10"/><circle cx="374.9" cy="151.2" r="1.10"/><circle cx="368.6" cy="151.2" r="1.10"/><circle cx="362.2" cy="149.0" r="1.10"/><circle cx="354.9" cy="149.7" r="1.10"/><circle cx="358.1" cy="151.9" r="1.10"/><circle cx="338.3" cy="153.2" r="1.10"/><circle cx="329.6" cy="155.4" r="1.10"/><circle cx="334.7" cy="157.6" r="1.10"/><circle cx="310.1" cy="156.2" r="1.10"/><circle cx="315.3" cy="157.6" r="1.40"/><circle cx="315.0" cy="159.8" r="1.10"/><circle cx="322.0" cy="157.6" r="1.20"/><circle cx="311.3" cy="161.3" r="1.20"/><circle cx="323.4" cy="161.3" r="1.10"/><circle cx="302.3" cy="166.0" r="1.10"/><circle cx="312.8" cy="166.1" r="1.10"/><circle cx="317.4" cy="164.9" r="1.10"/><circle cx="320.1" cy="166.4" r="1.10"/><circle cx="321.5" cy="169.3" r="1.40"/><circle cx="323.7" cy="169.0" r="1.10"/><circle cx="327.4" cy="168.6" r="1.10"/><circle cx="329.6" cy="165.7" r="1.10"/><circle cx="331.8" cy="162.7" r="1.10"/><circle cx="333.9" cy="165.7" r="1.10"/><circle cx="334.7" cy="169.3" r="1.10"/><circle cx="392.0" cy="154.7" r="1.10"/><circle cx="410.4" cy="153.7" r="1.10"/><circle cx="385.1" cy="156.6" r="1.40"/><circle cx="400.5" cy="157.6" r="1.10"/><circle cx="405.6" cy="162.7" r="1.10"/><circle cx="409.2" cy="161.3" r="1.40"/><circle cx="412.9" cy="163.5" r="1.10"/><circle cx="415.8" cy="163.5" r="1.10"/><circle cx="428.5" cy="161.7" r="1.20"/><circle cx="423.8" cy="170.3" r="1.10"/><circle cx="430.1" cy="170.3" r="1.10"/><circle cx="397.3" cy="170.3" r="1.10"/><circle cx="390.3" cy="169.3" r="1.40"/><circle cx="388.8" cy="167.8" r="1.10"/><circle cx="383.7" cy="169.6" r="1.10"/><circle cx="377.8" cy="170.0" r="1.10"/><circle cx="379.3" cy="164.2" r="1.10"/><circle cx="379.3" cy="166.4" r="1.10"/><circle cx="380.0" cy="158.4" r="1.10"/><circle cx="376.8" cy="159.8" r="1.70"/><circle cx="374.2" cy="154.7" r="1.10"/><circle cx="359.6" cy="150.3" r="1.10"/><circle cx="366.9" cy="154.7" r="1.70"/><circle cx="369.1" cy="156.9" r="1.10"/><circle cx="372.7" cy="157.6" r="1.10"/><circle cx="370.5" cy="160.5" r="1.10"/><circle cx="372.7" cy="161.3" r="1.10"/><circle cx="373.5" cy="166.4" r="1.10"/><circle cx="371.3" cy="168.6" r="1.70"/><circle cx="368.4" cy="170.0" r="1.10"/><circle cx="366.2" cy="170.8" r="1.10"/><circle cx="364.0" cy="168.6" r="1.10"/><circle cx="436.7" cy="157.6" r="1.20"/><circle cx="438.8" cy="136.5" r="1.20"/><circle cx="438.6" cy="137.6" r="1.20"/><circle cx="439.0" cy="138.7" r="1.20"/><circle cx="438.6" cy="139.8" r="1.20"/><circle cx="438.9" cy="140.9" r="1.20"/><circle cx="438.8" cy="142.0" r="1.20"/><circle cx="438.5" cy="143.1" r="1.20"/><circle cx="438.9" cy="144.2" r="1.20"/><circle cx="438.5" cy="145.3" r="1.20"/><circle cx="438.8" cy="146.4" r="1.20"/><circle cx="438.6" cy="147.5" r="1.20"/><circle cx="438.6" cy="148.6" r="1.20"/><circle cx="438.8" cy="149.7" r="1.20"/><circle cx="439.2" cy="150.8" r="1.20"/><circle cx="438.6" cy="151.9" r="1.20"/><circle cx="438.7" cy="153.0" r="1.20"/><circle cx="439.0" cy="154.1" r="1.20"/><circle cx="439.3" cy="155.2" r="1.20"/><circle cx="439.0" cy="156.3" r="1.20"/><circle cx="438.8" cy="157.4" r="1.20"/><circle cx="439.3" cy="158.5" r="1.20"/><circle cx="438.5" cy="159.6" r="1.20"/><circle cx="439.2" cy="160.7" r="1.20"/><circle cx="438.7" cy="161.8" r="1.20"/><circle cx="438.6" cy="162.9" r="1.20"/><circle cx="438.6" cy="164.0" r="1.20"/><circle cx="438.7" cy="165.1" r="1.20"/><circle cx="439.2" cy="166.2" r="1.20"/><circle cx="438.6" cy="167.3" r="1.20"/><circle cx="439.0" cy="168.4" r="1.20"/><circle cx="439.0" cy="169.5" r="1.20"/></g>
<g fill="#2a9a2a" fill-opacity="0.6" stroke="#000" stroke-opacity="0.7" stroke-width="0.45"><circle cx="351.5" cy="130.3" r="1.04"/><circle cx="341.6" cy="131.5" r="2.14"/><circle cx="342.6" cy="132.2" r="1.85"/><circle cx="341.3" cy="132.1" r="1.11"/><circle cx="340.7" cy="133.4" r="2.79"/><circle cx="346.1" cy="133.7" r="1.72"/><circle cx="341.4" cy="133.3" r="1.01"/><circle cx="345.8" cy="133.9" r="1.32"/><circle cx="337.8" cy="135.0" r="1.76"/><circle cx="351.4" cy="134.6" r="1.01"/><circle cx="343.7" cy="135.0" r="2.80"/><circle cx="347.3" cy="136.3" r="1.14"/><circle cx="351.7" cy="136.4" r="2.55"/><circle cx="339.7" cy="136.4" r="2.26"/><circle cx="337.2" cy="137.7" r="1.12"/><circle cx="354.7" cy="137.4" r="2.09"/><circle cx="339.6" cy="137.0" r="2.60"/><circle cx="346.5" cy="138.0" r="2.36"/><circle cx="339.6" cy="138.6" r="1.56"/><circle cx="352.3" cy="139.1" r="2.59"/><circle cx="344.5" cy="138.6" r="1.33"/><circle cx="340.8" cy="140.3" r="1.12"/><circle cx="348.1" cy="140.7" r="1.31"/><circle cx="343.8" cy="141.7" r="2.07"/><circle cx="340.8" cy="141.2" r="1.81"/><circle cx="345.3" cy="141.7" r="1.17"/><circle cx="338.0" cy="142.2" r="1.04"/><circle cx="344.7" cy="143.5" r="2.11"/><circle cx="347.0" cy="143.4" r="1.03"/><circle cx="344.1" cy="144.2" r="1.26"/><circle cx="348.4" cy="148.4" r="1.11"/><circle cx="347.9" cy="148.8" r="1.00"/><circle cx="351.3" cy="148.6" r="2.80"/><circle cx="344.9" cy="147.6" r="1.35"/><circle cx="347.4" cy="148.6" r="1.20"/><circle cx="345.5" cy="149.6" r="2.47"/><circle cx="348.8" cy="149.7" r="1.66"/><circle cx="345.8" cy="148.6" r="1.55"/><circle cx="346.9" cy="149.1" r="1.39"/><circle cx="349.0" cy="150.1" r="2.61"/><circle cx="345.9" cy="150.6" r="2.79"/><circle cx="345.2" cy="150.0" r="2.65"/><circle cx="350.3" cy="149.5" r="2.64"/><circle cx="348.5" cy="150.3" r="2.10"/><circle cx="347.3" cy="151.6" r="1.06"/><circle cx="353.1" cy="150.4" r="1.02"/><circle cx="340.6" cy="151.1" r="1.46"/><circle cx="349.9" cy="151.0" r="1.14"/><circle cx="352.0" cy="150.6" r="1.31"/><circle cx="347.1" cy="151.5" r="1.32"/><circle cx="351.9" cy="151.9" r="1.04"/><circle cx="346.2" cy="152.7" r="2.28"/><circle cx="346.3" cy="152.0" r="1.42"/><circle cx="348.9" cy="152.5" r="2.61"/><circle cx="348.3" cy="151.3" r="2.52"/><circle cx="344.8" cy="152.7" r="1.11"/><circle cx="343.0" cy="153.8" r="1.02"/><circle cx="348.5" cy="152.3" r="2.40"/><circle cx="343.7" cy="153.4" r="1.82"/><circle cx="346.2" cy="153.3" r="1.23"/><circle cx="349.1" cy="152.7" r="1.94"/><circle cx="348.8" cy="152.8" r="1.37"/><circle cx="343.0" cy="153.2" r="1.31"/><circle cx="343.1" cy="154.5" r="2.29"/><circle cx="356.9" cy="153.2" r="1.99"/><circle cx="341.8" cy="153.8" r="1.44"/><circle cx="345.7" cy="153.6" r="2.76"/><circle cx="348.2" cy="153.7" r="2.57"/><circle cx="346.7" cy="153.7" r="1.85"/><circle cx="344.4" cy="154.3" r="1.36"/><circle cx="351.6" cy="155.6" r="2.12"/><circle cx="349.7" cy="154.4" r="2.37"/><circle cx="344.2" cy="155.6" r="1.08"/><circle cx="346.3" cy="154.4" r="1.36"/><circle cx="348.0" cy="155.0" r="2.55"/><circle cx="341.7" cy="154.8" r="2.26"/><circle cx="357.9" cy="154.4" r="1.96"/><circle cx="348.8" cy="155.5" r="1.96"/><circle cx="342.2" cy="156.4" r="1.40"/><circle cx="345.1" cy="155.6" r="1.75"/><circle cx="345.7" cy="156.0" r="1.57"/><circle cx="348.1" cy="155.5" r="2.07"/><circle cx="349.4" cy="156.6" r="2.77"/><circle cx="343.4" cy="156.3" r="1.47"/><circle cx="348.1" cy="155.6" r="2.80"/><circle cx="351.5" cy="155.3" r="2.58"/><circle cx="345.2" cy="156.4" r="1.93"/><circle cx="338.8" cy="156.5" r="2.00"/><circle cx="351.2" cy="157.1" r="2.50"/><circle cx="339.5" cy="156.6" r="1.11"/><circle cx="350.0" cy="156.9" r="1.49"/><circle cx="347.1" cy="157.6" r="1.41"/><circle cx="342.3" cy="157.0" r="1.59"/><circle cx="345.7" cy="156.9" r="1.83"/><circle cx="342.9" cy="158.7" r="2.74"/><circle cx="351.4" cy="157.6" r="2.66"/><circle cx="354.2" cy="158.6" r="1.13"/><circle cx="349.6" cy="158.3" r="2.78"/><circle cx="343.5" cy="157.2" r="1.55"/><circle cx="344.3" cy="157.9" r="2.26"/><circle cx="340.2" cy="157.8" r="1.91"/><circle cx="355.8" cy="158.4" r="1.12"/><circle cx="355.2" cy="158.0" r="2.73"/><circle cx="346.9" cy="159.1" r="1.67"/><circle cx="349.9" cy="159.4" r="1.65"/><circle cx="353.3" cy="159.3" r="2.04"/><circle cx="346.6" cy="159.6" r="1.54"/><circle cx="343.7" cy="158.5" r="2.45"/><circle cx="351.5" cy="159.6" r="2.03"/><circle cx="347.0" cy="158.6" r="1.79"/><circle cx="352.1" cy="159.3" r="1.21"/><circle cx="347.2" cy="158.4" r="2.67"/><circle cx="358.6" cy="160.5" r="1.45"/><circle cx="348.7" cy="159.9" r="1.87"/><circle cx="353.0" cy="160.0" r="1.90"/><circle cx="339.6" cy="159.8" r="2.31"/><circle cx="356.7" cy="159.7" r="1.42"/><circle cx="340.7" cy="160.8" r="1.42"/><circle cx="347.5" cy="159.4" r="1.19"/><circle cx="346.4" cy="160.3" r="1.20"/><circle cx="347.6" cy="160.3" r="2.06"/><circle cx="346.7" cy="160.6" r="1.21"/><circle cx="348.8" cy="160.5" r="1.20"/><circle cx="356.8" cy="161.5" r="2.63"/><circle cx="353.3" cy="161.3" r="2.66"/><circle cx="355.9" cy="161.1" r="1.70"/><circle cx="350.5" cy="161.3" r="1.88"/><circle cx="337.0" cy="161.5" r="1.02"/><circle cx="349.4" cy="160.8" r="1.44"/><circle cx="344.1" cy="161.0" r="1.82"/><circle cx="343.8" cy="160.8" r="1.96"/><circle cx="345.6" cy="162.7" r="1.42"/><circle cx="362.6" cy="162.6" r="2.39"/><circle cx="349.4" cy="162.2" r="1.49"/><circle cx="363.3" cy="161.9" r="1.08"/><circle cx="355.1" cy="162.2" r="1.02"/><circle cx="341.4" cy="162.5" r="1.39"/><circle cx="354.9" cy="161.5" r="1.36"/><circle cx="350.1" cy="161.4" r="1.37"/><circle cx="346.0" cy="162.7" r="2.49"/><circle cx="350.9" cy="162.0" r="1.10"/><circle cx="348.2" cy="163.1" r="2.27"/><circle cx="337.6" cy="163.3" r="1.65"/><circle cx="349.9" cy="162.8" r="1.21"/><circle cx="344.8" cy="163.7" r="2.60"/><circle cx="333.5" cy="163.6" r="1.96"/><circle cx="344.9" cy="163.5" r="1.14"/><circle cx="348.7" cy="163.7" r="2.43"/><circle cx="345.3" cy="163.4" r="2.32"/><circle cx="363.8" cy="162.4" r="1.26"/><circle cx="358.4" cy="162.6" r="1.53"/><circle cx="363.3" cy="164.4" r="1.45"/><circle cx="341.4" cy="163.8" r="2.61"/><circle cx="340.8" cy="164.3" r="2.15"/><circle cx="347.3" cy="163.5" r="2.57"/><circle cx="338.1" cy="164.7" r="1.06"/><circle cx="345.2" cy="163.4" r="1.79"/><circle cx="352.1" cy="163.9" r="1.09"/><circle cx="337.0" cy="163.4" r="1.93"/><circle cx="349.8" cy="164.3" r="2.37"/><circle cx="364.0" cy="163.8" r="1.04"/><circle cx="348.4" cy="163.7" r="1.13"/><circle cx="352.9" cy="165.1" r="2.11"/><circle cx="342.7" cy="164.9" r="2.79"/><circle cx="342.9" cy="164.5" r="1.21"/><circle cx="339.8" cy="165.3" r="1.52"/><circle cx="334.7" cy="165.3" r="2.38"/><circle cx="341.0" cy="164.8" r="1.03"/><circle cx="345.7" cy="164.6" r="1.08"/><circle cx="364.4" cy="164.3" r="2.80"/><circle cx="349.3" cy="164.8" r="1.02"/><circle cx="351.5" cy="165.4" r="2.03"/><circle cx="337.6" cy="164.2" r="2.28"/><circle cx="354.4" cy="166.2" r="2.18"/><circle cx="360.5" cy="166.8" r="1.60"/><circle cx="363.5" cy="165.7" r="1.67"/><circle cx="346.3" cy="166.1" r="2.67"/><circle cx="340.1" cy="166.3" r="1.43"/><circle cx="360.1" cy="165.2" r="1.62"/><circle cx="341.1" cy="165.7" r="1.30"/><circle cx="338.4" cy="166.2" r="1.22"/><circle cx="359.3" cy="165.3" r="1.10"/><circle cx="341.6" cy="166.0" r="1.50"/><circle cx="355.4" cy="166.0" r="1.31"/><circle cx="353.8" cy="166.8" r="1.96"/><circle cx="346.8" cy="167.5" r="1.46"/><circle cx="344.5" cy="166.2" r="2.72"/><circle cx="344.0" cy="166.3" r="2.20"/><circle cx="355.1" cy="167.0" r="2.53"/><circle cx="349.8" cy="167.5" r="1.29"/><circle cx="361.8" cy="167.4" r="2.62"/><circle cx="349.2" cy="166.4" r="1.98"/><circle cx="336.4" cy="167.6" r="2.21"/><circle cx="337.5" cy="167.6" r="1.04"/><circle cx="359.3" cy="167.6" r="1.11"/><circle cx="347.6" cy="168.0" r="2.50"/><circle cx="359.4" cy="168.6" r="1.01"/><circle cx="346.1" cy="167.4" r="1.23"/><circle cx="357.5" cy="167.9" r="2.58"/><circle cx="339.4" cy="168.0" r="1.10"/><circle cx="360.9" cy="168.8" r="2.24"/><circle cx="343.8" cy="168.0" r="2.52"/><circle cx="349.2" cy="167.6" r="2.67"/><circle cx="349.2" cy="167.3" r="2.19"/><circle cx="344.3" cy="167.5" r="2.10"/><circle cx="347.5" cy="167.8" r="2.48"/><circle cx="358.6" cy="168.6" r="1.21"/><circle cx="351.7" cy="168.6" r="1.79"/><circle cx="353.7" cy="169.7" r="1.33"/><circle cx="358.5" cy="168.5" r="2.48"/><circle cx="362.9" cy="168.9" r="2.29"/><circle cx="353.5" cy="168.8" r="2.69"/><circle cx="342.7" cy="168.3" r="1.80"/><circle cx="339.8" cy="168.6" r="2.08"/><circle cx="346.2" cy="168.4" r="1.23"/><circle cx="353.6" cy="168.4" r="1.27"/><circle cx="333.5" cy="169.4" r="1.39"/><circle cx="345.0" cy="169.7" r="1.37"/><circle cx="340.1" cy="170.2" r="1.62"/><circle cx="352.7" cy="170.3" r="1.16"/><circle cx="350.1" cy="169.9" r="1.23"/><circle cx="355.1" cy="170.1" r="1.04"/><circle cx="341.1" cy="170.2" r="1.10"/><circle cx="352.3" cy="170.2" r="1.57"/><circle cx="352.1" cy="169.8" r="2.25"/><circle cx="346.6" cy="170.7" r="2.31"/><circle cx="354.7" cy="169.6" r="1.24"/><circle cx="343.4" cy="170.2" r="1.97"/><circle cx="344.2" cy="170.6" r="1.33"/><circle cx="350.6" cy="170.6" r="2.37"/><circle cx="350.3" cy="171.5" r="1.88"/><circle cx="337.9" cy="171.2" r="1.44"/><circle cx="356.1" cy="170.4" r="2.22"/><circle cx="363.3" cy="170.7" r="2.17"/><circle cx="358.6" cy="170.2" r="2.47"/><circle cx="341.0" cy="170.6" r="1.25"/><circle cx="362.3" cy="170.5" r="2.41"/><circle cx="347.3" cy="170.6" r="1.89"/><circle cx="349.6" cy="170.5" r="1.08"/></g>
<g fill="#2a9a2a" fill-opacity="0.55" stroke="#000" stroke-opacity="0.8" stroke-width="0.5"></g>
<g fill="#ff0000" fill-opacity="0.75" stroke="#000" stroke-opacity="0.7" stroke-width="0.45"></g>
<g fill="#4682B4" fill-opacity="0.68" stroke="#000" stroke-opacity="0.7" stroke-width="0.45"><circle cx="320.6" cy="21.4" r="1.30"/><circle cx="338.0" cy="53.2" r="3.80"/><circle cx="312.8" cy="86.4" r="1.20"/><circle cx="317.4" cy="86.7" r="1.40"/><circle cx="328.2" cy="83.1" r="2.60"/><circle cx="340.7" cy="83.2" r="1.40"/><circle cx="340.5" cy="87.0" r="1.20"/><circle cx="258.9" cy="88.6" r="1.50"/></g>
<text x="319.10" y="19.70" font-size="4.8" fill="#5b8ec7" textLength="12.19" lengthAdjust="spacingAndGlyphs">F0272</text>
<text x="336.80" y="51.00" font-size="4.8" fill="#5b8ec7" textLength="12.19" lengthAdjust="spacingAndGlyphs">F0011</text>
<text x="299.00" y="84.50" font-size="4.8" fill="#5b8ec7" textLength="12.19" lengthAdjust="spacingAndGlyphs">F0265</text>
<text x="317.90" y="80.90" font-size="4.8" fill="#5b8ec7" textLength="12.19" lengthAdjust="spacingAndGlyphs">F0031</text>
<text x="315.50" y="92.30" font-size="4.8" fill="#5b8ec7" textLength="12.19" lengthAdjust="spacingAndGlyphs">F0250</text>
<text x="338.00" y="80.90" font-size="4.8" fill="#5b8ec7" textLength="12.19" lengthAdjust="spacingAndGlyphs">F0080</text>
<text x="335.00" y="92.90" font-size="4.8" fill="#5b8ec7" textLength="12.19" lengthAdjust="spacingAndGlyphs">F0321</text>
<text x="251.80" y="94.00" font-size="4.8" fill="#5b8ec7" textLength="12.19" lengthAdjust="spacingAndGlyphs">F0418</text>
<g fill="#2a9a2a" fill-opacity="0.6" stroke="#000" stroke-opacity="0.8" stroke-width="0.5"><circle cx="573.3" cy="97.8" r="1.70"/><circle cx="573.6" cy="96.4" r="1.10"/><circle cx="572.9" cy="106.9" r="1.50"/><circle cx="574.3" cy="109.8" r="1.40"/><circle cx="580.6" cy="107.6" r="1.10"/><circle cx="573.6" cy="114.6" r="1.20"/><circle cx="558.6" cy="108.4" r="1.10"/><circle cx="568.2" cy="119.6" r="1.20"/><circle cx="582.6" cy="121.5" r="1.20"/><circle cx="542.5" cy="124.1" r="1.30"/><circle cx="546.1" cy="129.8" r="1.10"/><circle cx="569.2" cy="127.8" r="1.10"/><circle cx="567.3" cy="131.7" r="1.20"/><circle cx="557.5" cy="132.7" r="1.10"/><circle cx="561.9" cy="136.4" r="1.10"/><circle cx="574.0" cy="131.4" r="1.10"/><circle cx="577.7" cy="132.0" r="1.40"/><circle cx="575.3" cy="136.1" r="1.10"/><circle cx="548.0" cy="137.8" r="1.20"/><circle cx="549.1" cy="139.7" r="1.10"/><circle cx="543.2" cy="141.9" r="1.10"/><circle cx="559.0" cy="140.5" r="1.10"/><circle cx="566.0" cy="140.5" r="1.40"/><circle cx="564.8" cy="142.7" r="1.10"/><circle cx="587.7" cy="93.4" r="1.40"/><circle cx="588.4" cy="101.9" r="1.10"/><circle cx="617.6" cy="101.9" r="1.10"/><circle cx="609.1" cy="107.2" r="1.20"/><circle cx="612.5" cy="109.8" r="1.10"/><circle cx="620.2" cy="112.9" r="1.10"/><circle cx="608.4" cy="117.5" r="1.20"/><circle cx="603.0" cy="120.3" r="1.10"/><circle cx="593.0" cy="121.8" r="1.70"/><circle cx="589.5" cy="124.9" r="1.20"/><circle cx="601.5" cy="127.2" r="1.70"/><circle cx="596.1" cy="129.5" r="2.10"/><circle cx="588.4" cy="131.0" r="1.20"/><circle cx="603.8" cy="131.0" r="1.10"/><circle cx="605.8" cy="132.2" r="1.10"/><circle cx="618.3" cy="128.7" r="1.10"/><circle cx="629.4" cy="128.7" r="1.40"/><circle cx="637.5" cy="130.7" r="1.20"/><circle cx="639.0" cy="131.8" r="1.10"/><circle cx="628.7" cy="133.7" r="1.10"/><circle cx="619.1" cy="134.0" r="1.20"/><circle cx="623.7" cy="135.3" r="1.40"/><circle cx="611.4" cy="135.6" r="1.10"/><circle cx="601.5" cy="137.4" r="1.40"/><circle cx="609.4" cy="139.0" r="1.10"/><circle cx="629.0" cy="137.9" r="1.10"/><circle cx="623.7" cy="141.0" r="1.10"/><circle cx="611.4" cy="142.0" r="1.40"/><circle cx="665.1" cy="133.3" r="1.40"/><circle cx="541.5" cy="147.0" r="1.10"/><circle cx="544.4" cy="150.3" r="1.20"/><circle cx="550.7" cy="154.3" r="1.10"/><circle cx="567.8" cy="144.1" r="1.10"/><circle cx="559.0" cy="145.5" r="1.10"/><circle cx="562.6" cy="146.7" r="1.40"/><circle cx="562.6" cy="153.2" r="1.10"/><circle cx="568.9" cy="157.2" r="1.10"/><circle cx="571.4" cy="153.7" r="1.10"/><circle cx="554.6" cy="162.7" r="1.40"/><circle cx="559.4" cy="164.2" r="1.40"/><circle cx="559.0" cy="166.0" r="1.10"/><circle cx="554.6" cy="168.3" r="1.10"/><circle cx="545.1" cy="166.4" r="1.10"/><circle cx="548.5" cy="166.4" r="1.10"/><circle cx="543.2" cy="170.0" r="1.10"/><circle cx="564.8" cy="162.7" r="1.10"/><circle cx="567.0" cy="164.9" r="1.10"/><circle cx="565.6" cy="167.8" r="1.10"/><circle cx="569.9" cy="170.0" r="1.10"/><circle cx="603.8" cy="144.5" r="1.10"/><circle cx="606.1" cy="144.5" r="1.10"/><circle cx="608.4" cy="144.2" r="1.10"/><circle cx="605.3" cy="150.3" r="1.10"/><circle cx="608.4" cy="150.3" r="1.10"/><circle cx="611.4" cy="148.8" r="1.20"/><circle cx="609.1" cy="155.7" r="1.10"/><circle cx="613.0" cy="159.5" r="1.10"/><circle cx="621.4" cy="158.3" r="1.10"/><circle cx="624.5" cy="163.4" r="1.10"/><circle cx="616.8" cy="163.4" r="1.10"/><circle cx="612.2" cy="164.9" r="1.10"/><circle cx="616.0" cy="167.2" r="1.10"/><circle cx="619.5" cy="165.7" r="1.10"/><circle cx="621.1" cy="169.5" r="1.10"/><circle cx="616.8" cy="171.0" r="1.10"/><circle cx="612.5" cy="170.3" r="1.10"/><circle cx="631.3" cy="152.6" r="1.10"/><circle cx="636.7" cy="155.7" r="1.10"/><circle cx="640.5" cy="158.0" r="1.10"/><circle cx="640.5" cy="160.3" r="1.10"/><circle cx="647.4" cy="150.3" r="1.10"/><circle cx="647.0" cy="154.2" r="1.10"/><circle cx="638.2" cy="164.1" r="1.40"/><circle cx="635.9" cy="166.9" r="1.10"/><circle cx="643.6" cy="164.4" r="1.10"/><circle cx="645.9" cy="163.4" r="1.10"/><circle cx="649.3" cy="164.4" r="1.10"/><circle cx="655.1" cy="166.0" r="1.10"/><circle cx="660.0" cy="163.7" r="1.10"/><circle cx="637.5" cy="170.6" r="1.10"/><circle cx="639.8" cy="170.0" r="1.10"/><circle cx="675.8" cy="124.1" r="1.10"/><circle cx="675.8" cy="126.4" r="1.10"/><circle cx="675.8" cy="131.8" r="1.10"/><circle cx="675.8" cy="133.3" r="1.10"/><circle cx="675.8" cy="137.9" r="1.10"/><circle cx="675.8" cy="142.5" r="1.10"/><circle cx="675.5" cy="139.6" r="1.10"/><circle cx="675.5" cy="141.2" r="1.10"/><circle cx="675.5" cy="144.4" r="1.10"/><circle cx="675.5" cy="146.0" r="1.10"/><circle cx="675.5" cy="147.6" r="1.10"/><circle cx="675.5" cy="149.2" r="1.10"/><circle cx="675.5" cy="150.8" r="1.10"/><circle cx="675.5" cy="152.4" r="1.10"/><circle cx="675.5" cy="154.0" r="1.10"/><circle cx="675.5" cy="155.6" r="1.10"/><circle cx="675.5" cy="157.2" r="1.10"/><circle cx="675.5" cy="158.8" r="1.10"/><circle cx="675.5" cy="160.4" r="1.10"/><circle cx="675.5" cy="162.0" r="1.10"/><circle cx="675.5" cy="163.6" r="1.10"/><circle cx="675.5" cy="165.2" r="1.10"/><circle cx="675.5" cy="166.8" r="1.10"/><circle cx="675.5" cy="168.4" r="1.10"/></g>
<g fill="#2a9a2a" fill-opacity="0.6" stroke="#000" stroke-opacity="0.7" stroke-width="0.45"><circle cx="584.7" cy="129.8" r="1.84"/><circle cx="587.1" cy="130.2" r="1.03"/><circle cx="588.8" cy="130.6" r="1.20"/><circle cx="584.9" cy="131.8" r="1.58"/><circle cx="586.0" cy="132.2" r="1.11"/><circle cx="582.4" cy="132.2" r="2.46"/><circle cx="580.7" cy="133.3" r="1.03"/><circle cx="584.1" cy="133.4" r="1.82"/><circle cx="584.5" cy="134.6" r="1.59"/><circle cx="585.4" cy="134.4" r="2.48"/><circle cx="583.5" cy="134.8" r="2.29"/><circle cx="579.3" cy="134.9" r="2.63"/><circle cx="585.8" cy="135.4" r="1.18"/><circle cx="584.0" cy="136.7" r="1.52"/><circle cx="583.2" cy="137.0" r="1.43"/><circle cx="583.2" cy="136.8" r="1.81"/><circle cx="579.4" cy="138.3" r="2.61"/><circle cx="581.7" cy="138.6" r="2.78"/><circle cx="584.2" cy="138.6" r="2.71"/><circle cx="583.4" cy="139.6" r="1.77"/><circle cx="584.6" cy="139.5" r="1.78"/><circle cx="583.0" cy="138.7" r="1.03"/><circle cx="591.1" cy="139.3" r="2.29"/><circle cx="578.4" cy="139.9" r="1.11"/><circle cx="583.6" cy="140.6" r="1.02"/><circle cx="590.7" cy="141.2" r="1.02"/><circle cx="584.6" cy="141.6" r="2.75"/><circle cx="582.3" cy="141.0" r="2.80"/><circle cx="584.7" cy="142.2" r="1.01"/><circle cx="586.5" cy="141.5" r="1.47"/><circle cx="583.7" cy="141.3" r="2.46"/><circle cx="584.0" cy="142.7" r="2.69"/><circle cx="588.1" cy="142.9" r="1.68"/><circle cx="583.2" cy="143.2" r="1.83"/><circle cx="580.6" cy="144.7" r="1.65"/><circle cx="583.5" cy="143.9" r="2.10"/><circle cx="585.6" cy="144.8" r="1.68"/><circle cx="588.6" cy="145.1" r="1.00"/><circle cx="581.1" cy="144.2" r="1.87"/><circle cx="588.0" cy="145.2" r="1.03"/><circle cx="581.0" cy="147.9" r="1.54"/><circle cx="589.7" cy="147.9" r="1.96"/><circle cx="584.6" cy="147.2" r="1.30"/><circle cx="592.7" cy="147.7" r="1.10"/><circle cx="584.8" cy="148.5" r="2.68"/><circle cx="580.4" cy="147.6" r="2.52"/><circle cx="587.8" cy="147.2" r="1.56"/><circle cx="577.1" cy="149.2" r="1.29"/><circle cx="585.9" cy="148.6" r="2.26"/><circle cx="590.0" cy="148.8" r="1.50"/><circle cx="576.4" cy="148.7" r="1.02"/><circle cx="574.1" cy="149.8" r="2.37"/><circle cx="586.9" cy="148.6" r="1.11"/><circle cx="578.3" cy="148.7" r="1.56"/><circle cx="593.3" cy="149.4" r="1.00"/><circle cx="589.1" cy="150.5" r="1.62"/><circle cx="591.3" cy="150.5" r="1.55"/><circle cx="581.8" cy="150.2" r="1.63"/><circle cx="588.6" cy="149.6" r="1.47"/><circle cx="585.7" cy="149.8" r="1.71"/><circle cx="581.9" cy="149.7" r="1.66"/><circle cx="580.0" cy="150.7" r="2.25"/><circle cx="578.9" cy="149.6" r="1.06"/><circle cx="575.4" cy="150.3" r="1.08"/><circle cx="594.5" cy="151.7" r="1.07"/><circle cx="585.9" cy="151.3" r="2.64"/><circle cx="585.7" cy="151.2" r="1.23"/><circle cx="581.6" cy="150.5" r="1.00"/><circle cx="571.8" cy="150.4" r="1.10"/><circle cx="583.0" cy="150.8" r="1.01"/><circle cx="575.1" cy="150.9" r="1.01"/><circle cx="587.7" cy="150.2" r="1.16"/><circle cx="577.7" cy="152.0" r="1.06"/><circle cx="571.9" cy="151.5" r="1.48"/><circle cx="588.2" cy="151.9" r="2.39"/><circle cx="587.7" cy="151.6" r="2.49"/><circle cx="590.7" cy="151.6" r="1.14"/><circle cx="580.3" cy="152.3" r="2.35"/><circle cx="588.5" cy="151.9" r="1.01"/><circle cx="581.9" cy="151.7" r="1.29"/><circle cx="587.5" cy="152.8" r="1.30"/><circle cx="587.6" cy="153.0" r="1.70"/><circle cx="576.3" cy="153.0" r="1.62"/><circle cx="587.3" cy="152.3" r="1.91"/><circle cx="580.1" cy="152.7" r="1.57"/><circle cx="575.7" cy="153.5" r="2.12"/><circle cx="591.7" cy="152.5" r="2.08"/><circle cx="587.7" cy="152.8" r="1.44"/><circle cx="587.0" cy="153.3" r="1.90"/><circle cx="593.4" cy="152.6" r="1.45"/><circle cx="584.1" cy="154.6" r="1.01"/><circle cx="584.1" cy="154.2" r="1.10"/><circle cx="596.6" cy="153.6" r="1.64"/><circle cx="582.8" cy="154.6" r="2.42"/><circle cx="580.4" cy="154.4" r="2.58"/><circle cx="576.9" cy="154.0" r="1.87"/><circle cx="588.4" cy="153.5" r="1.80"/><circle cx="577.5" cy="153.8" r="2.09"/><circle cx="585.6" cy="153.4" r="1.01"/><circle cx="570.6" cy="154.7" r="2.12"/><circle cx="599.8" cy="155.7" r="1.11"/><circle cx="585.8" cy="154.5" r="1.86"/><circle cx="586.2" cy="155.7" r="1.20"/><circle cx="582.3" cy="154.5" r="1.52"/><circle cx="587.3" cy="154.3" r="1.01"/><circle cx="589.0" cy="154.4" r="2.01"/><circle cx="588.4" cy="154.9" r="2.18"/><circle cx="573.3" cy="154.4" r="2.45"/><circle cx="582.8" cy="154.8" r="1.15"/><circle cx="588.1" cy="155.4" r="1.41"/><circle cx="591.2" cy="155.3" r="2.67"/><circle cx="586.7" cy="155.9" r="2.25"/><circle cx="579.6" cy="156.4" r="1.74"/><circle cx="581.8" cy="155.3" r="2.78"/><circle cx="579.7" cy="155.9" r="2.70"/><circle cx="595.3" cy="155.5" r="1.02"/><circle cx="593.7" cy="156.6" r="1.54"/><circle cx="588.2" cy="156.7" r="1.10"/><circle cx="590.7" cy="156.6" r="1.16"/><circle cx="585.2" cy="156.1" r="1.87"/><circle cx="594.3" cy="157.5" r="1.02"/><circle cx="584.9" cy="157.6" r="1.67"/><circle cx="569.9" cy="156.7" r="1.87"/><circle cx="581.5" cy="157.1" r="1.30"/><circle cx="591.4" cy="156.7" r="1.86"/><circle cx="593.0" cy="156.9" r="1.04"/><circle cx="579.7" cy="157.2" r="1.29"/><circle cx="569.9" cy="156.7" r="2.69"/><circle cx="574.4" cy="156.3" r="2.32"/><circle cx="590.7" cy="157.6" r="1.24"/><circle cx="582.3" cy="157.7" r="2.25"/><circle cx="597.5" cy="157.2" r="1.07"/><circle cx="592.8" cy="158.7" r="1.54"/><circle cx="581.2" cy="158.5" r="1.18"/><circle cx="595.5" cy="157.2" r="1.16"/><circle cx="584.5" cy="157.3" r="1.49"/><circle cx="603.4" cy="158.7" r="1.47"/><circle cx="580.8" cy="158.4" r="2.15"/><circle cx="597.0" cy="158.5" r="2.20"/><circle cx="569.6" cy="157.7" r="1.13"/><circle cx="580.7" cy="158.4" r="1.11"/><circle cx="589.8" cy="157.5" r="2.12"/><circle cx="589.9" cy="158.2" r="1.00"/><circle cx="587.4" cy="158.4" r="2.15"/><circle cx="586.1" cy="159.0" r="1.38"/><circle cx="590.5" cy="158.2" r="1.03"/><circle cx="586.4" cy="158.4" r="1.49"/><circle cx="595.2" cy="159.0" r="2.61"/><circle cx="581.1" cy="158.6" r="1.14"/><circle cx="582.1" cy="158.8" r="2.68"/><circle cx="591.2" cy="159.2" r="2.20"/><circle cx="585.7" cy="159.7" r="2.19"/><circle cx="584.2" cy="158.6" r="2.64"/><circle cx="583.9" cy="160.7" r="2.50"/><circle cx="579.1" cy="160.5" r="1.45"/><circle cx="599.2" cy="159.7" r="1.56"/><circle cx="585.1" cy="159.2" r="2.80"/><circle cx="586.3" cy="159.9" r="1.47"/><circle cx="578.0" cy="160.3" r="1.70"/><circle cx="581.2" cy="159.2" r="1.02"/><circle cx="586.0" cy="160.8" r="1.63"/><circle cx="594.6" cy="159.4" r="2.38"/><circle cx="583.2" cy="160.2" r="2.10"/><circle cx="594.7" cy="159.6" r="1.48"/><circle cx="604.6" cy="161.6" r="2.33"/><circle cx="588.0" cy="160.5" r="1.89"/><circle cx="582.3" cy="160.5" r="2.47"/><circle cx="588.8" cy="161.2" r="1.83"/><circle cx="594.2" cy="161.6" r="1.16"/><circle cx="595.3" cy="160.6" r="2.62"/><circle cx="585.3" cy="161.7" r="2.14"/><circle cx="596.1" cy="160.7" r="1.35"/><circle cx="586.8" cy="161.0" r="1.10"/><circle cx="589.2" cy="160.6" r="2.36"/><circle cx="589.3" cy="160.3" r="1.90"/><circle cx="589.3" cy="161.6" r="1.25"/><circle cx="572.8" cy="162.8" r="1.03"/><circle cx="585.0" cy="161.8" r="1.00"/><circle cx="579.1" cy="161.7" r="1.51"/><circle cx="597.1" cy="161.7" r="2.75"/><circle cx="593.5" cy="162.2" r="2.52"/><circle cx="569.9" cy="162.2" r="1.05"/><circle cx="601.2" cy="162.1" r="2.14"/><circle cx="602.6" cy="162.1" r="2.52"/><circle cx="588.4" cy="161.5" r="2.13"/><circle cx="591.7" cy="162.2" r="1.70"/><circle cx="589.4" cy="161.7" r="1.05"/><circle cx="595.8" cy="163.7" r="2.29"/><circle cx="589.2" cy="163.5" r="2.31"/><circle cx="578.7" cy="162.6" r="2.68"/><circle cx="588.0" cy="162.4" r="1.05"/><circle cx="584.1" cy="163.3" r="1.11"/><circle cx="588.3" cy="162.9" r="1.30"/><circle cx="588.8" cy="163.1" r="1.14"/><circle cx="583.0" cy="162.8" r="2.71"/><circle cx="575.1" cy="163.1" r="1.72"/><circle cx="587.5" cy="163.3" r="1.37"/><circle cx="594.4" cy="162.4" r="1.49"/><circle cx="582.0" cy="162.6" r="2.60"/><circle cx="587.3" cy="164.5" r="1.52"/><circle cx="587.7" cy="163.5" r="1.73"/><circle cx="574.1" cy="163.3" r="1.85"/><circle cx="582.9" cy="164.0" r="1.22"/><circle cx="586.1" cy="164.3" r="2.77"/><circle cx="588.2" cy="164.2" r="1.74"/><circle cx="583.9" cy="164.7" r="1.27"/><circle cx="594.1" cy="163.7" r="2.39"/><circle cx="591.9" cy="164.6" r="1.83"/><circle cx="587.6" cy="163.6" r="1.52"/><circle cx="577.4" cy="164.3" r="1.33"/><circle cx="591.7" cy="163.6" r="1.65"/><circle cx="578.0" cy="165.6" r="1.39"/><circle cx="582.5" cy="165.7" r="2.28"/><circle cx="597.0" cy="165.4" r="1.22"/><circle cx="576.5" cy="164.7" r="1.69"/><circle cx="578.0" cy="164.5" r="2.58"/><circle cx="580.5" cy="165.5" r="2.20"/><circle cx="575.4" cy="164.7" r="1.86"/><circle cx="596.7" cy="164.8" r="1.69"/><circle cx="596.8" cy="165.5" r="1.29"/><circle cx="593.1" cy="164.7" r="2.54"/><circle cx="602.1" cy="165.7" r="1.11"/><circle cx="567.9" cy="165.2" r="1.92"/><circle cx="578.5" cy="165.4" r="1.52"/><circle cx="587.0" cy="166.3" r="1.31"/><circle cx="586.5" cy="165.7" r="2.37"/><circle cx="579.4" cy="166.8" r="1.30"/><circle cx="594.9" cy="166.7" r="1.32"/><circle cx="584.2" cy="166.8" r="1.57"/><circle cx="585.2" cy="166.0" r="2.70"/><circle cx="585.1" cy="165.7" r="1.01"/><circle cx="587.8" cy="165.3" r="2.47"/><circle cx="590.1" cy="166.2" r="1.42"/><circle cx="572.4" cy="166.1" r="1.30"/><circle cx="575.6" cy="165.8" r="1.25"/><circle cx="575.2" cy="165.7" r="1.18"/><circle cx="602.5" cy="166.7" r="1.06"/><circle cx="578.3" cy="167.0" r="2.18"/><circle cx="582.8" cy="166.8" r="1.16"/><circle cx="602.2" cy="167.5" r="2.10"/><circle cx="575.5" cy="166.7" r="2.20"/><circle cx="596.3" cy="167.2" r="1.76"/><circle cx="582.2" cy="166.6" r="2.72"/><circle cx="599.3" cy="167.1" r="2.18"/><circle cx="591.2" cy="166.7" r="1.15"/><circle cx="588.4" cy="166.8" r="1.85"/><circle cx="587.4" cy="167.3" r="1.08"/><circle cx="582.2" cy="167.4" r="2.43"/><circle cx="584.2" cy="166.8" r="2.11"/><circle cx="578.1" cy="168.6" r="1.07"/><circle cx="585.0" cy="168.4" r="1.18"/><circle cx="606.2" cy="167.4" r="1.02"/><circle cx="582.7" cy="168.1" r="1.13"/><circle cx="604.9" cy="167.5" r="1.06"/><circle cx="582.7" cy="167.4" r="1.74"/><circle cx="590.0" cy="167.4" r="1.00"/><circle cx="602.9" cy="168.3" r="1.00"/><circle cx="590.5" cy="168.7" r="2.44"/><circle cx="606.7" cy="167.2" r="1.18"/><circle cx="587.9" cy="167.4" r="1.73"/><circle cx="583.1" cy="168.1" r="2.26"/><circle cx="581.0" cy="167.3" r="1.13"/><circle cx="586.8" cy="168.7" r="1.25"/><circle cx="585.6" cy="169.1" r="1.00"/><circle cx="599.9" cy="169.4" r="1.02"/><circle cx="586.8" cy="169.2" r="1.17"/><circle cx="592.2" cy="169.2" r="1.21"/><circle cx="573.4" cy="168.9" r="2.74"/><circle cx="572.2" cy="169.4" r="1.27"/><circle cx="585.7" cy="168.7" r="2.73"/><circle cx="584.9" cy="169.0" r="1.33"/><circle cx="580.8" cy="169.3" r="2.00"/><circle cx="594.3" cy="168.4" r="1.67"/><circle cx="576.7" cy="168.4" r="1.57"/><circle cx="578.5" cy="168.6" r="1.12"/><circle cx="591.1" cy="169.6" r="1.96"/><circle cx="592.1" cy="170.7" r="2.71"/><circle cx="596.4" cy="170.4" r="1.67"/><circle cx="576.6" cy="170.6" r="1.53"/><circle cx="581.0" cy="169.3" r="2.50"/><circle cx="590.3" cy="170.6" r="1.27"/><circle cx="607.1" cy="169.6" r="2.45"/><circle cx="595.5" cy="169.4" r="1.64"/><circle cx="579.3" cy="170.7" r="1.40"/><circle cx="573.8" cy="170.1" r="1.36"/><circle cx="569.8" cy="170.1" r="1.27"/><circle cx="589.8" cy="170.4" r="1.69"/><circle cx="580.4" cy="169.6" r="2.54"/><circle cx="591.3" cy="170.7" r="2.52"/><circle cx="584.5" cy="170.4" r="2.14"/><circle cx="583.2" cy="170.7" r="1.02"/><circle cx="596.4" cy="171.0" r="2.58"/><circle cx="590.2" cy="170.4" r="2.52"/><circle cx="600.5" cy="170.2" r="1.21"/><circle cx="586.6" cy="171.0" r="1.99"/><circle cx="599.6" cy="171.1" r="2.44"/><circle cx="588.6" cy="171.1" r="2.24"/><circle cx="592.5" cy="170.9" r="2.56"/><circle cx="586.5" cy="171.0" r="2.11"/><circle cx="605.8" cy="171.8" r="2.53"/><circle cx="590.4" cy="170.8" r="2.12"/><circle cx="573.2" cy="172.2" r="1.78"/><circle cx="599.3" cy="172.5" r="2.65"/><circle cx="599.3" cy="172.0" r="1.36"/><circle cx="569.9" cy="171.8" r="1.39"/><circle cx="576.0" cy="172.2" r="2.79"/><circle cx="574.6" cy="171.9" r="1.04"/><circle cx="575.1" cy="172.6" r="1.60"/><circle cx="582.1" cy="172.5" r="1.11"/><circle cx="580.0" cy="172.1" r="2.56"/><circle cx="586.0" cy="172.6" r="2.71"/><circle cx="582.9" cy="172.7" r="1.21"/><circle cx="597.3" cy="172.2" r="1.09"/></g>
<g fill="#2a9a2a" fill-opacity="0.55" stroke="#000" stroke-opacity="0.8" stroke-width="0.5"><circle cx="578.4" cy="89.1" r="3.10"/><circle cx="579.4" cy="112.0" r="3.20"/><circle cx="582.4" cy="131.4" r="3.20"/><circle cx="608.7" cy="125.2" r="3.10"/><circle cx="590.5" cy="154.8" r="2.90"/></g>
<g fill="#ff0000" fill-opacity="0.75" stroke="#000" stroke-opacity="0.7" stroke-width="0.45"><circle cx="602.7" cy="21.2" r="1.30"/><circle cx="593.1" cy="78.3" r="1.20"/><circle cx="638.5" cy="43.8" r="1.20"/></g>
<g fill="#4682B4" fill-opacity="0.68" stroke="#000" stroke-opacity="0.7" stroke-width="0.45"><circle cx="571.9" cy="39.4" r="1.50"/><circle cx="564.0" cy="45.0" r="1.50"/></g>
<text x="591.90" y="27.10" font-size="4.8" fill="#f03030" textLength="12.19" lengthAdjust="spacingAndGlyphs">F0122</text>
<text x="582.90" y="84.20" font-size="4.8" fill="#f03030" textLength="12.19" lengthAdjust="spacingAndGlyphs">F0176</text>
<text x="636.70" y="41.50" font-size="4.8" fill="#f03030" textLength="12.19" lengthAdjust="spacingAndGlyphs">F3374</text>
<text x="570.40" y="37.10" font-size="4.8" fill="#5b8ec7" textLength="12.19" lengthAdjust="spacingAndGlyphs">F0102</text>
<text x="554.00" y="50.70" font-size="4.8" fill="#5b8ec7" textLength="12.19" lengthAdjust="spacingAndGlyphs">F0105</text>
<g fill="#2a9a2a" fill-opacity="0.6" stroke="#000" stroke-opacity="0.8" stroke-width="0.5"><circle cx="117.2" cy="297.4" r="1.40"/><circle cx="120.5" cy="297.7" r="1.70"/><circle cx="120.5" cy="301.0" r="1.90"/><circle cx="134.7" cy="296.0" r="1.20"/><circle cx="143.5" cy="307.7" r="1.10"/><circle cx="162.9" cy="306.5" r="1.20"/><circle cx="119.1" cy="312.0" r="1.40"/><circle cx="119.4" cy="318.2" r="1.20"/><circle cx="115.7" cy="320.4" r="1.10"/><circle cx="133.2" cy="315.7" r="1.40"/><circle cx="136.6" cy="325.2" r="1.40"/><circle cx="140.5" cy="328.1" r="1.20"/><circle cx="130.3" cy="328.4" r="1.10"/><circle cx="102.3" cy="298.5" r="1.20"/><circle cx="103.3" cy="300.7" r="1.10"/><circle cx="100.8" cy="304.2" r="1.50"/><circle cx="103.8" cy="308.5" r="1.60"/><circle cx="91.9" cy="310.4" r="1.30"/><circle cx="109.2" cy="314.8" r="1.70"/><circle cx="59.2" cy="314.8" r="1.10"/><circle cx="61.4" cy="315.5" r="1.10"/><circle cx="87.6" cy="320.7" r="1.10"/><circle cx="97.5" cy="321.8" r="1.20"/><circle cx="104.3" cy="324.7" r="1.20"/><circle cx="108.4" cy="322.1" r="1.10"/><circle cx="67.1" cy="330.9" r="1.10"/><circle cx="88.4" cy="327.7" r="1.20"/><circle cx="90.5" cy="331.3" r="1.40"/><circle cx="86.5" cy="333.8" r="1.10"/><circle cx="82.6" cy="336.4" r="1.40"/><circle cx="108.0" cy="330.1" r="1.60"/><circle cx="106.7" cy="332.6" r="1.10"/><circle cx="103.0" cy="333.5" r="1.10"/><circle cx="102.3" cy="337.0" r="1.60"/><circle cx="104.3" cy="336.7" r="1.10"/><circle cx="96.3" cy="340.4" r="1.10"/><circle cx="95.0" cy="342.1" r="1.40"/><circle cx="103.0" cy="345.2" r="1.40"/><circle cx="92.4" cy="348.4" r="1.10"/><circle cx="27.1" cy="350.5" r="1.10"/><circle cx="64.2" cy="361.6" r="1.10"/><circle cx="69.3" cy="367.7" r="1.20"/><circle cx="69.0" cy="374.3" r="1.20"/><circle cx="52.7" cy="378.4" r="1.10"/><circle cx="71.6" cy="380.1" r="1.40"/><circle cx="73.0" cy="387.4" r="1.10"/><circle cx="81.4" cy="362.6" r="1.20"/><circle cx="89.2" cy="361.2" r="1.10"/><circle cx="91.6" cy="360.9" r="1.10"/><circle cx="96.0" cy="362.6" r="1.10"/><circle cx="88.7" cy="370.2" r="1.40"/><circle cx="96.8" cy="369.2" r="1.10"/><circle cx="82.4" cy="374.3" r="1.10"/><circle cx="78.8" cy="375.8" r="1.10"/><circle cx="81.4" cy="378.4" r="1.10"/><circle cx="89.5" cy="380.9" r="1.10"/><circle cx="92.8" cy="378.7" r="1.10"/><circle cx="95.0" cy="375.0" r="1.40"/><circle cx="95.0" cy="382.3" r="1.10"/><circle cx="87.3" cy="386.0" r="1.40"/><circle cx="85.1" cy="386.7" r="1.20"/><circle cx="94.6" cy="349.5" r="1.40"/><circle cx="92.1" cy="350.2" r="1.10"/><circle cx="97.5" cy="386.7" r="1.10"/><circle cx="99.7" cy="383.8" r="1.10"/><circle cx="101.1" cy="388.2" r="1.10"/><circle cx="130.4" cy="335.5" r="1.20"/><circle cx="134.1" cy="342.0" r="1.20"/><circle cx="139.6" cy="340.1" r="1.70"/><circle cx="124.9" cy="345.6" r="1.20"/><circle cx="132.2" cy="352.9" r="1.20"/><circle cx="143.2" cy="360.2" r="1.10"/><circle cx="149.6" cy="358.4" r="1.10"/><circle cx="145.0" cy="368.5" r="1.10"/><circle cx="146.9" cy="370.3" r="1.10"/><circle cx="141.4" cy="374.9" r="1.10"/><circle cx="137.7" cy="380.4" r="1.10"/><circle cx="145.0" cy="378.5" r="1.10"/><circle cx="148.7" cy="380.4" r="1.10"/><circle cx="140.5" cy="384.0" r="1.10"/><circle cx="146.9" cy="384.0" r="1.10"/><circle cx="150.5" cy="386.8" r="1.10"/><circle cx="124.9" cy="321.8" r="1.90"/><circle cx="103.0" cy="323.7" r="1.10"/><circle cx="117.6" cy="336.5" r="1.20"/><circle cx="156.8" cy="335.5" r="1.70"/><circle cx="186.5" cy="336.4" r="1.10"/><circle cx="191.1" cy="340.6" r="1.10"/><circle cx="204.2" cy="339.5" r="1.20"/><circle cx="197.5" cy="345.2" r="1.10"/><circle cx="202.4" cy="347.0" r="1.10"/><circle cx="157.7" cy="352.5" r="1.10"/><circle cx="163.7" cy="351.0" r="1.10"/><circle cx="172.8" cy="349.2" r="1.10"/><circle cx="163.2" cy="358.3" r="1.20"/><circle cx="163.4" cy="359.8" r="1.10"/><circle cx="187.4" cy="359.2" r="1.10"/><circle cx="189.6" cy="361.6" r="1.10"/><circle cx="197.5" cy="358.0" r="1.10"/><circle cx="155.5" cy="365.3" r="1.10"/><circle cx="161.5" cy="364.3" r="1.10"/><circle cx="172.5" cy="364.7" r="1.20"/><circle cx="167.0" cy="368.4" r="1.10"/><circle cx="171.4" cy="368.4" r="1.10"/><circle cx="178.0" cy="369.6" r="1.40"/><circle cx="182.0" cy="367.8" r="1.40"/><circle cx="186.0" cy="371.5" r="1.10"/><circle cx="189.6" cy="372.6" r="1.10"/><circle cx="146.4" cy="368.4" r="1.10"/><circle cx="145.5" cy="370.2" r="1.10"/><circle cx="153.7" cy="369.3" r="1.10"/><circle cx="154.6" cy="370.7" r="1.10"/><circle cx="150.0" cy="372.9" r="1.10"/><circle cx="143.6" cy="376.6" r="1.10"/><circle cx="147.3" cy="378.4" r="1.10"/><circle cx="151.0" cy="378.0" r="1.10"/><circle cx="151.9" cy="379.9" r="1.10"/><circle cx="167.4" cy="378.4" r="1.10"/><circle cx="154.6" cy="379.9" r="1.10"/><circle cx="145.5" cy="380.2" r="1.10"/><circle cx="156.4" cy="384.2" r="1.10"/><circle cx="159.2" cy="382.4" r="1.10"/><circle cx="148.2" cy="387.2" r="1.10"/><circle cx="152.8" cy="387.9" r="1.10"/><circle cx="163.7" cy="387.5" r="1.10"/><circle cx="169.2" cy="387.9" r="1.10"/><circle cx="172.8" cy="385.7" r="1.10"/><circle cx="176.5" cy="387.2" r="1.10"/><circle cx="180.1" cy="383.0" r="1.10"/><circle cx="197.5" cy="383.5" r="1.10"/><circle cx="204.2" cy="351.9" r="1.10"/><circle cx="204.2" cy="354.7" r="1.10"/><circle cx="204.2" cy="388.4" r="1.10"/><circle cx="204.2" cy="357.4" r="1.25"/><circle cx="204.2" cy="359.9" r="1.25"/><circle cx="204.2" cy="362.4" r="1.25"/><circle cx="204.2" cy="364.9" r="1.25"/><circle cx="204.2" cy="367.4" r="1.25"/><circle cx="204.2" cy="369.9" r="1.25"/><circle cx="204.2" cy="372.4" r="1.25"/><circle cx="204.2" cy="374.9" r="1.25"/><circle cx="204.2" cy="377.4" r="1.25"/><circle cx="204.2" cy="379.9" r="1.25"/><circle cx="204.2" cy="382.4" r="1.25"/><circle cx="204.2" cy="384.9" r="1.25"/></g>
<g fill="#2a9a2a" fill-opacity="0.6" stroke="#000" stroke-opacity="0.7" stroke-width="0.45"><circle cx="111.6" cy="335.8" r="1.11"/><circle cx="112.7" cy="336.3" r="1.46"/><circle cx="115.6" cy="338.4" r="1.19"/><circle cx="109.4" cy="339.1" r="1.26"/><circle cx="112.6" cy="339.5" r="2.61"/><circle cx="113.2" cy="340.5" r="2.30"/><circle cx="112.7" cy="340.7" r="1.89"/><circle cx="110.1" cy="341.4" r="2.42"/><circle cx="113.2" cy="342.2" r="1.99"/><circle cx="111.2" cy="342.0" r="1.13"/><circle cx="110.8" cy="343.7" r="2.45"/><circle cx="112.5" cy="343.1" r="1.30"/><circle cx="116.4" cy="344.6" r="2.41"/><circle cx="109.8" cy="344.0" r="1.48"/><circle cx="109.1" cy="344.5" r="1.30"/><circle cx="110.1" cy="345.5" r="1.02"/><circle cx="118.2" cy="345.6" r="1.70"/><circle cx="114.3" cy="346.0" r="1.36"/><circle cx="115.4" cy="345.9" r="1.16"/><circle cx="112.8" cy="347.2" r="1.26"/><circle cx="108.4" cy="346.7" r="1.75"/><circle cx="118.4" cy="347.6" r="1.06"/><circle cx="116.0" cy="348.4" r="1.87"/><circle cx="114.2" cy="347.6" r="1.34"/><circle cx="115.2" cy="347.3" r="2.05"/><circle cx="117.8" cy="349.6" r="2.68"/><circle cx="112.0" cy="348.2" r="1.28"/><circle cx="103.2" cy="349.7" r="2.23"/><circle cx="103.2" cy="350.2" r="2.33"/><circle cx="119.6" cy="349.7" r="1.15"/><circle cx="110.7" cy="349.8" r="2.70"/><circle cx="114.4" cy="350.7" r="1.00"/><circle cx="116.4" cy="351.5" r="1.39"/><circle cx="114.3" cy="350.7" r="1.05"/><circle cx="119.2" cy="351.5" r="1.03"/><circle cx="112.9" cy="351.3" r="1.12"/><circle cx="112.2" cy="351.3" r="1.62"/><circle cx="110.9" cy="352.6" r="2.79"/><circle cx="118.6" cy="353.4" r="1.47"/><circle cx="118.5" cy="353.8" r="1.59"/><circle cx="114.0" cy="352.3" r="1.49"/><circle cx="119.8" cy="353.6" r="2.51"/><circle cx="117.2" cy="353.3" r="1.23"/><circle cx="107.9" cy="353.6" r="1.17"/><circle cx="115.2" cy="353.4" r="1.02"/><circle cx="126.0" cy="355.7" r="1.77"/><circle cx="120.1" cy="355.6" r="1.95"/><circle cx="113.6" cy="355.5" r="2.16"/><circle cx="111.4" cy="354.5" r="2.47"/><circle cx="114.2" cy="356.6" r="2.60"/><circle cx="109.5" cy="356.5" r="1.93"/><circle cx="121.8" cy="356.5" r="1.69"/><circle cx="108.9" cy="355.6" r="2.60"/><circle cx="106.4" cy="357.7" r="1.04"/><circle cx="127.4" cy="357.3" r="1.02"/><circle cx="111.4" cy="357.6" r="1.08"/><circle cx="123.5" cy="356.3" r="1.12"/><circle cx="112.6" cy="358.2" r="1.77"/><circle cx="114.1" cy="357.5" r="1.00"/><circle cx="101.0" cy="358.7" r="1.00"/><circle cx="116.7" cy="358.5" r="2.25"/><circle cx="112.3" cy="359.6" r="1.74"/><circle cx="117.8" cy="359.3" r="1.34"/><circle cx="111.5" cy="359.6" r="2.22"/><circle cx="106.7" cy="358.2" r="1.01"/><circle cx="116.2" cy="360.2" r="1.62"/><circle cx="120.8" cy="359.4" r="1.39"/><circle cx="107.8" cy="360.4" r="1.68"/><circle cx="127.6" cy="360.5" r="1.04"/><circle cx="115.8" cy="361.1" r="1.42"/><circle cx="116.3" cy="360.6" r="1.61"/><circle cx="109.1" cy="361.7" r="1.05"/><circle cx="122.1" cy="361.6" r="1.66"/><circle cx="121.2" cy="360.9" r="2.43"/><circle cx="115.5" cy="362.6" r="1.16"/><circle cx="112.5" cy="361.7" r="2.38"/><circle cx="103.9" cy="361.5" r="2.47"/><circle cx="121.0" cy="361.5" r="1.10"/><circle cx="108.6" cy="362.1" r="2.55"/><circle cx="115.4" cy="363.3" r="1.00"/><circle cx="111.8" cy="363.0" r="2.09"/><circle cx="123.6" cy="363.0" r="1.04"/><circle cx="115.6" cy="362.8" r="2.21"/><circle cx="129.2" cy="363.8" r="1.89"/><circle cx="110.9" cy="363.7" r="2.57"/><circle cx="106.3" cy="363.9" r="2.57"/><circle cx="110.3" cy="364.5" r="1.86"/><circle cx="129.2" cy="363.9" r="1.09"/><circle cx="116.3" cy="364.3" r="1.09"/><circle cx="108.4" cy="364.3" r="1.10"/><circle cx="117.2" cy="365.6" r="1.41"/><circle cx="111.1" cy="365.1" r="1.37"/><circle cx="113.1" cy="364.8" r="2.63"/><circle cx="113.2" cy="364.5" r="1.95"/><circle cx="112.6" cy="365.2" r="1.01"/><circle cx="121.3" cy="366.7" r="2.36"/><circle cx="119.9" cy="366.7" r="1.11"/><circle cx="102.6" cy="366.1" r="1.63"/><circle cx="99.8" cy="366.4" r="2.72"/><circle cx="107.7" cy="366.4" r="1.95"/><circle cx="110.0" cy="367.2" r="2.36"/><circle cx="104.5" cy="366.7" r="2.61"/><circle cx="107.1" cy="367.6" r="2.06"/><circle cx="121.4" cy="366.7" r="1.20"/><circle cx="110.8" cy="368.8" r="2.53"/><circle cx="125.4" cy="367.8" r="1.46"/><circle cx="118.4" cy="367.9" r="1.00"/><circle cx="110.1" cy="367.5" r="1.71"/><circle cx="112.1" cy="367.8" r="2.67"/><circle cx="105.9" cy="369.2" r="1.11"/><circle cx="132.0" cy="369.8" r="2.59"/><circle cx="124.5" cy="369.2" r="1.31"/><circle cx="120.9" cy="368.6" r="2.61"/><circle cx="119.1" cy="369.6" r="2.24"/><circle cx="119.4" cy="369.7" r="2.66"/><circle cx="120.6" cy="369.5" r="2.26"/><circle cx="111.9" cy="370.7" r="1.24"/><circle cx="107.1" cy="370.0" r="1.11"/><circle cx="117.6" cy="369.7" r="1.08"/><circle cx="117.2" cy="370.3" r="2.78"/><circle cx="112.1" cy="371.3" r="2.13"/><circle cx="132.1" cy="371.2" r="2.67"/><circle cx="125.2" cy="371.1" r="2.04"/><circle cx="107.4" cy="371.4" r="1.74"/><circle cx="111.6" cy="372.6" r="1.61"/><circle cx="116.1" cy="371.3" r="1.12"/><circle cx="120.5" cy="371.8" r="2.01"/><circle cx="111.9" cy="372.6" r="1.34"/><circle cx="109.9" cy="371.2" r="2.48"/><circle cx="121.8" cy="372.2" r="2.69"/><circle cx="119.0" cy="373.6" r="2.34"/><circle cx="120.1" cy="372.6" r="1.74"/><circle cx="103.7" cy="372.5" r="2.35"/><circle cx="118.2" cy="373.8" r="2.07"/><circle cx="133.0" cy="373.8" r="2.40"/><circle cx="107.4" cy="374.5" r="1.81"/><circle cx="125.1" cy="374.7" r="1.30"/><circle cx="123.4" cy="374.2" r="2.53"/><circle cx="114.6" cy="374.2" r="1.23"/><circle cx="115.2" cy="375.6" r="1.97"/><circle cx="110.4" cy="375.2" r="1.36"/><circle cx="132.6" cy="375.5" r="2.52"/><circle cx="129.6" cy="375.3" r="2.05"/><circle cx="106.1" cy="375.2" r="1.69"/><circle cx="124.1" cy="375.3" r="2.08"/><circle cx="116.0" cy="376.0" r="1.73"/><circle cx="111.6" cy="375.5" r="1.03"/><circle cx="113.0" cy="376.5" r="2.56"/><circle cx="115.2" cy="376.8" r="2.35"/><circle cx="112.8" cy="377.0" r="1.00"/><circle cx="122.8" cy="377.2" r="1.00"/><circle cx="107.3" cy="377.4" r="1.01"/><circle cx="112.1" cy="376.8" r="2.51"/><circle cx="117.2" cy="377.4" r="2.33"/><circle cx="114.3" cy="378.2" r="1.01"/><circle cx="124.2" cy="377.9" r="2.73"/><circle cx="117.1" cy="377.7" r="2.03"/><circle cx="100.7" cy="378.5" r="2.06"/><circle cx="112.1" cy="377.2" r="2.50"/><circle cx="118.6" cy="379.7" r="1.26"/><circle cx="117.0" cy="379.2" r="2.39"/><circle cx="108.5" cy="378.7" r="1.88"/><circle cx="116.3" cy="378.2" r="1.24"/><circle cx="126.2" cy="378.7" r="2.57"/><circle cx="125.8" cy="379.3" r="2.76"/><circle cx="126.7" cy="379.5" r="1.05"/><circle cx="121.2" cy="380.3" r="2.51"/><circle cx="133.3" cy="380.0" r="1.07"/><circle cx="112.0" cy="380.8" r="1.12"/><circle cx="124.2" cy="380.6" r="2.39"/><circle cx="132.7" cy="380.7" r="1.77"/><circle cx="130.7" cy="381.3" r="2.55"/><circle cx="130.4" cy="380.5" r="2.10"/><circle cx="123.8" cy="380.2" r="2.21"/><circle cx="119.1" cy="381.3" r="1.33"/><circle cx="121.7" cy="381.7" r="2.75"/><circle cx="111.0" cy="382.8" r="1.13"/><circle cx="112.2" cy="381.5" r="2.68"/><circle cx="128.3" cy="382.8" r="1.02"/><circle cx="113.3" cy="383.6" r="2.06"/><circle cx="109.5" cy="382.4" r="1.16"/><circle cx="103.7" cy="382.4" r="1.60"/><circle cx="107.5" cy="382.8" r="2.15"/><circle cx="114.1" cy="383.5" r="2.19"/><circle cx="121.3" cy="383.6" r="1.21"/><circle cx="118.0" cy="384.1" r="1.15"/><circle cx="111.9" cy="383.8" r="2.07"/><circle cx="111.9" cy="384.7" r="1.15"/><circle cx="104.1" cy="383.5" r="1.01"/><circle cx="133.2" cy="384.5" r="2.35"/><circle cx="114.8" cy="385.0" r="1.02"/><circle cx="100.8" cy="384.7" r="2.10"/><circle cx="113.7" cy="384.8" r="1.57"/><circle cx="119.7" cy="384.8" r="1.54"/><circle cx="118.0" cy="386.5" r="2.13"/><circle cx="118.2" cy="385.9" r="1.07"/><circle cx="114.2" cy="386.6" r="1.60"/><circle cx="125.9" cy="386.8" r="1.69"/><circle cx="121.1" cy="386.2" r="1.83"/><circle cx="125.4" cy="387.4" r="1.01"/><circle cx="105.2" cy="386.4" r="1.02"/><circle cx="121.5" cy="386.5" r="1.27"/><circle cx="111.2" cy="387.2" r="1.13"/><circle cx="119.1" cy="386.8" r="2.00"/><circle cx="103.0" cy="388.7" r="1.24"/><circle cx="112.0" cy="387.7" r="1.71"/><circle cx="110.6" cy="388.6" r="1.16"/><circle cx="114.9" cy="388.0" r="1.07"/><circle cx="105.6" cy="345.7" r="1.28"/><circle cx="110.2" cy="346.4" r="2.06"/><circle cx="110.2" cy="346.2" r="1.43"/><circle cx="109.7" cy="348.4" r="1.23"/><circle cx="108.1" cy="349.6" r="2.65"/><circle cx="111.0" cy="349.8" r="2.80"/><circle cx="116.9" cy="351.6" r="1.11"/><circle cx="113.5" cy="352.3" r="1.75"/><circle cx="113.4" cy="353.1" r="2.49"/><circle cx="110.3" cy="354.2" r="1.31"/><circle cx="118.8" cy="355.0" r="2.79"/><circle cx="115.4" cy="354.4" r="2.32"/><circle cx="114.4" cy="355.2" r="1.41"/><circle cx="103.0" cy="355.3" r="2.17"/><circle cx="104.9" cy="356.8" r="2.23"/><circle cx="118.9" cy="357.6" r="1.21"/><circle cx="102.6" cy="358.0" r="1.39"/><circle cx="107.5" cy="357.6" r="2.26"/><circle cx="113.0" cy="359.1" r="1.74"/><circle cx="116.2" cy="358.4" r="1.96"/><circle cx="114.2" cy="359.7" r="2.56"/><circle cx="109.2" cy="360.1" r="1.26"/><circle cx="118.1" cy="360.8" r="1.57"/><circle cx="111.5" cy="360.6" r="1.91"/><circle cx="110.6" cy="361.3" r="2.76"/><circle cx="107.5" cy="362.7" r="1.01"/><circle cx="105.2" cy="362.8" r="2.13"/><circle cx="108.6" cy="363.7" r="1.82"/><circle cx="109.0" cy="363.6" r="1.11"/><circle cx="113.1" cy="363.4" r="1.18"/><circle cx="114.3" cy="365.5" r="2.59"/><circle cx="106.8" cy="365.5" r="1.02"/><circle cx="113.2" cy="366.4" r="2.38"/><circle cx="110.5" cy="366.3" r="1.46"/><circle cx="113.2" cy="367.2" r="1.21"/><circle cx="112.3" cy="367.1" r="1.25"/><circle cx="113.5" cy="368.4" r="1.61"/><circle cx="114.8" cy="367.8" r="1.61"/><circle cx="106.4" cy="368.9" r="2.71"/><circle cx="109.8" cy="369.4" r="1.20"/><circle cx="110.4" cy="369.8" r="1.01"/><circle cx="114.4" cy="370.4" r="1.77"/><circle cx="103.1" cy="370.7" r="1.79"/><circle cx="116.3" cy="371.7" r="1.75"/><circle cx="108.4" cy="372.8" r="2.18"/><circle cx="108.9" cy="371.7" r="1.38"/><circle cx="107.1" cy="373.0" r="1.15"/><circle cx="108.8" cy="373.1" r="2.06"/><circle cx="112.4" cy="373.9" r="1.64"/><circle cx="106.8" cy="374.1" r="1.59"/><circle cx="115.7" cy="375.8" r="2.35"/><circle cx="112.3" cy="374.9" r="2.17"/><circle cx="112.9" cy="376.0" r="2.05"/><circle cx="115.7" cy="375.2" r="1.58"/><circle cx="117.5" cy="377.8" r="1.06"/><circle cx="108.4" cy="377.7" r="2.38"/><circle cx="117.9" cy="378.4" r="1.19"/><circle cx="113.1" cy="378.2" r="2.41"/><circle cx="113.5" cy="378.3" r="1.71"/><circle cx="107.4" cy="378.5" r="1.71"/><circle cx="111.7" cy="380.1" r="2.34"/><circle cx="116.5" cy="380.8" r="1.46"/><circle cx="120.0" cy="380.7" r="2.19"/><circle cx="112.6" cy="381.5" r="1.01"/><circle cx="111.8" cy="381.7" r="1.35"/><circle cx="108.5" cy="382.1" r="1.22"/><circle cx="108.5" cy="382.4" r="1.22"/><circle cx="112.4" cy="383.3" r="1.31"/><circle cx="113.7" cy="383.5" r="2.76"/><circle cx="116.5" cy="384.5" r="1.11"/><circle cx="111.1" cy="385.0" r="1.44"/><circle cx="117.1" cy="385.0" r="2.19"/><circle cx="115.7" cy="385.5" r="1.70"/><circle cx="117.2" cy="385.7" r="2.30"/><circle cx="120.8" cy="386.9" r="1.87"/><circle cx="104.8" cy="386.5" r="2.08"/><circle cx="121.6" cy="344.2" r="1.27"/><circle cx="124.4" cy="345.5" r="0.99"/><circle cx="120.2" cy="347.8" r="1.12"/><circle cx="130.0" cy="348.8" r="1.59"/><circle cx="126.2" cy="348.5" r="1.44"/><circle cx="128.4" cy="350.2" r="1.52"/><circle cx="134.7" cy="351.1" r="0.91"/><circle cx="125.4" cy="351.2" r="1.41"/><circle cx="122.2" cy="353.1" r="1.29"/><circle cx="117.9" cy="354.2" r="1.49"/><circle cx="133.6" cy="354.7" r="1.43"/><circle cx="133.1" cy="356.6" r="0.99"/><circle cx="132.8" cy="356.7" r="1.37"/><circle cx="131.1" cy="357.9" r="1.35"/><circle cx="125.8" cy="358.5" r="1.26"/><circle cx="137.5" cy="359.0" r="1.46"/><circle cx="138.0" cy="359.3" r="1.54"/><circle cx="126.0" cy="360.7" r="1.13"/><circle cx="112.7" cy="360.6" r="0.99"/><circle cx="130.9" cy="361.3" r="1.29"/><circle cx="123.5" cy="362.0" r="1.09"/><circle cx="115.5" cy="361.6" r="0.97"/><circle cx="123.7" cy="363.4" r="1.24"/><circle cx="135.9" cy="363.0" r="1.06"/><circle cx="124.1" cy="364.5" r="1.26"/><circle cx="124.0" cy="364.3" r="1.06"/><circle cx="116.7" cy="365.7" r="1.17"/><circle cx="128.5" cy="364.7" r="1.30"/><circle cx="135.8" cy="365.3" r="1.19"/><circle cx="135.4" cy="365.6" r="1.07"/><circle cx="133.3" cy="366.3" r="1.11"/><circle cx="118.5" cy="366.2" r="1.42"/><circle cx="113.5" cy="367.6" r="1.42"/><circle cx="131.0" cy="367.4" r="1.47"/><circle cx="128.1" cy="369.7" r="1.44"/><circle cx="133.0" cy="368.5" r="1.21"/><circle cx="126.1" cy="369.9" r="1.57"/><circle cx="131.7" cy="369.8" r="1.36"/><circle cx="132.2" cy="371.2" r="1.50"/><circle cx="115.6" cy="370.7" r="1.13"/><circle cx="127.4" cy="372.0" r="1.37"/><circle cx="132.8" cy="372.1" r="0.95"/><circle cx="132.1" cy="372.4" r="0.96"/><circle cx="142.4" cy="373.4" r="0.92"/><circle cx="136.0" cy="374.0" r="0.90"/><circle cx="135.5" cy="374.3" r="1.20"/><circle cx="133.0" cy="375.4" r="1.16"/><circle cx="115.4" cy="374.7" r="1.22"/><circle cx="136.2" cy="376.3" r="1.22"/><circle cx="137.7" cy="375.4" r="1.11"/><circle cx="126.6" cy="377.2" r="0.94"/><circle cx="128.2" cy="376.5" r="1.09"/><circle cx="128.6" cy="377.9" r="1.01"/><circle cx="147.3" cy="378.5" r="1.43"/><circle cx="133.0" cy="378.6" r="0.92"/><circle cx="127.4" cy="379.4" r="1.12"/><circle cx="151.6" cy="379.3" r="0.91"/><circle cx="145.1" cy="380.6" r="1.11"/><circle cx="140.5" cy="380.4" r="1.13"/><circle cx="122.1" cy="381.4" r="0.90"/><circle cx="134.1" cy="382.0" r="1.03"/><circle cx="123.5" cy="382.5" r="1.14"/><circle cx="129.2" cy="383.4" r="0.95"/><circle cx="133.7" cy="383.2" r="0.90"/><circle cx="143.6" cy="383.7" r="1.22"/><circle cx="141.5" cy="384.3" r="1.05"/><circle cx="123.0" cy="384.3" r="1.44"/><circle cx="130.7" cy="385.0" r="1.47"/><circle cx="123.7" cy="385.4" r="1.24"/><circle cx="121.9" cy="385.9" r="1.00"/><circle cx="137.8" cy="386.3" r="1.28"/><circle cx="137.1" cy="386.9" r="0.93"/></g>
<g fill="#2a9a2a" fill-opacity="0.55" stroke="#000" stroke-opacity="0.8" stroke-width="0.5"><circle cx="126.0" cy="320.4" r="2.90"/><circle cx="125.5" cy="326.2" r="2.40"/><circle cx="112.1" cy="321.8" r="2.90"/><circle cx="110.3" cy="321.8" r="2.40"/></g>
<g fill="#ff0000" fill-opacity="0.75" stroke="#000" stroke-opacity="0.7" stroke-width="0.45"><circle cx="139.4" cy="286.8" r="1.80"/><circle cx="143.2" cy="290.4" r="1.30"/></g>
<g fill="#4682B4" fill-opacity="0.68" stroke="#000" stroke-opacity="0.7" stroke-width="0.45"><circle cx="98.5" cy="238.5" r="1.20"/><circle cx="88.4" cy="245.4" r="1.50"/><circle cx="94.9" cy="264.6" r="1.20"/><circle cx="94.7" cy="280.5" r="1.30"/><circle cx="95.2" cy="282.7" r="1.30"/><circle cx="95.2" cy="284.1" r="1.50"/><circle cx="95.2" cy="287.7" r="1.20"/></g>
<text x="97.00" y="236.10" font-size="4.8" fill="#5b8ec7" textLength="12.19" lengthAdjust="spacingAndGlyphs">F0326</text>
<text x="78.10" y="251.00" font-size="4.8" fill="#5b8ec7" textLength="12.19" lengthAdjust="spacingAndGlyphs">F0158</text>
<text x="84.10" y="270.30" font-size="4.8" fill="#5b8ec7" textLength="12.19" lengthAdjust="spacingAndGlyphs">F0314</text>
<text x="84.10" y="278.10" font-size="4.8" fill="#5b8ec7" textLength="12.19" lengthAdjust="spacingAndGlyphs">F0195</text>
<text x="80.80" y="286.20" font-size="4.8" fill="#5b8ec7" textLength="12.19" lengthAdjust="spacingAndGlyphs">F0059</text>
<text x="98.80" y="285.30" font-size="4.8" fill="#5b8ec7" textLength="12.19" lengthAdjust="spacingAndGlyphs">F0370</text>
<text x="91.30" y="293.90" font-size="4.8" fill="#5b8ec7" textLength="12.19" lengthAdjust="spacingAndGlyphs">F0334</text>
<text x="128.90" y="284.50" font-size="4.8" fill="#f03030" textLength="12.19" lengthAdjust="spacingAndGlyphs">F0853</text>
<text x="141.70" y="296.10" font-size="4.8" fill="#f03030" textLength="12.19" lengthAdjust="spacingAndGlyphs">F0889</text>
<g fill="#2a9a2a" fill-opacity="0.6" stroke="#000" stroke-opacity="0.8" stroke-width="0.5"><circle cx="281.8" cy="273.9" r="1.20"/><circle cx="292.0" cy="270.3" r="1.10"/><circle cx="298.9" cy="271.4" r="1.40"/><circle cx="300.8" cy="272.4" r="1.40"/><circle cx="300.4" cy="274.6" r="1.20"/><circle cx="294.8" cy="275.4" r="1.20"/><circle cx="311.0" cy="271.3" r="1.10"/><circle cx="310.6" cy="276.8" r="1.10"/><circle cx="304.3" cy="279.7" r="1.20"/><circle cx="306.2" cy="280.5" r="1.20"/><circle cx="331.3" cy="272.9" r="1.40"/><circle cx="330.0" cy="276.8" r="1.40"/><circle cx="348.5" cy="275.4" r="1.70"/><circle cx="346.4" cy="280.5" r="1.90"/><circle cx="347.8" cy="281.9" r="1.90"/><circle cx="346.6" cy="281.5" r="1.90"/><circle cx="348.8" cy="279.6" r="1.90"/><circle cx="349.6" cy="282.1" r="1.40"/><circle cx="348.4" cy="287.5" r="1.70"/><circle cx="359.0" cy="284.2" r="1.70"/><circle cx="359.5" cy="289.0" r="1.10"/><circle cx="347.7" cy="280.9" r="2.20"/><circle cx="349.7" cy="289.5" r="1.40"/><circle cx="352.3" cy="291.9" r="1.10"/><circle cx="312.5" cy="288.0" r="1.20"/><circle cx="316.4" cy="289.5" r="1.10"/><circle cx="310.9" cy="293.4" r="1.40"/><circle cx="301.9" cy="296.1" r="1.10"/><circle cx="325.3" cy="293.1" r="1.20"/><circle cx="337.0" cy="294.2" r="1.40"/><circle cx="360.2" cy="295.0" r="1.20"/><circle cx="362.8" cy="293.1" r="1.10"/><circle cx="348.4" cy="298.9" r="1.90"/><circle cx="345.3" cy="300.5" r="1.70"/><circle cx="346.1" cy="302.8" r="1.40"/><circle cx="338.8" cy="302.0" r="1.90"/><circle cx="351.6" cy="303.6" r="1.90"/><circle cx="350.0" cy="305.9" r="1.90"/><circle cx="352.3" cy="306.7" r="1.70"/><circle cx="335.9" cy="305.9" r="1.40"/><circle cx="337.5" cy="308.8" r="1.70"/><circle cx="334.1" cy="309.4" r="1.70"/><circle cx="347.7" cy="309.8" r="1.70"/><circle cx="338.8" cy="312.5" r="1.40"/><circle cx="330.5" cy="312.2" r="1.10"/><circle cx="322.7" cy="309.8" r="1.20"/><circle cx="305.9" cy="311.7" r="1.10"/><circle cx="359.1" cy="307.5" r="1.10"/><circle cx="345.3" cy="316.6" r="1.70"/><circle cx="350.3" cy="315.6" r="1.90"/><circle cx="346.1" cy="320.8" r="1.90"/><circle cx="348.4" cy="319.7" r="1.40"/><circle cx="351.6" cy="319.7" r="1.20"/><circle cx="354.7" cy="320.0" r="1.20"/><circle cx="356.3" cy="323.4" r="1.10"/><circle cx="346.9" cy="325.5" r="1.40"/><circle cx="349.7" cy="325.5" r="1.40"/><circle cx="351.6" cy="327.8" r="1.40"/><circle cx="348.4" cy="330.2" r="1.40"/><circle cx="350.8" cy="333.3" r="1.40"/><circle cx="346.9" cy="334.1" r="1.40"/><circle cx="332.5" cy="323.4" r="1.40"/><circle cx="333.6" cy="325.5" r="1.10"/><circle cx="330.5" cy="325.5" r="1.10"/><circle cx="328.4" cy="326.3" r="1.10"/><circle cx="335.6" cy="325.5" r="1.10"/><circle cx="333.6" cy="330.2" r="1.20"/><circle cx="338.8" cy="330.5" r="1.90"/><circle cx="322.7" cy="327.5" r="1.10"/><circle cx="311.4" cy="327.0" r="1.10"/><circle cx="307.5" cy="323.9" r="1.10"/><circle cx="321.9" cy="334.1" r="1.10"/><circle cx="321.9" cy="335.9" r="1.10"/><circle cx="332.5" cy="340.9" r="1.40"/><circle cx="328.9" cy="344.4" r="1.40"/><circle cx="326.6" cy="347.2" r="1.20"/><circle cx="338.3" cy="343.3" r="1.90"/><circle cx="339.8" cy="337.0" r="1.90"/><circle cx="339.1" cy="348.4" r="1.20"/><circle cx="330.0" cy="353.1" r="1.70"/><circle cx="334.1" cy="357.0" r="1.70"/><circle cx="337.5" cy="362.5" r="1.20"/><circle cx="333.1" cy="365.9" r="1.10"/><circle cx="335.6" cy="365.9" r="1.10"/><circle cx="351.6" cy="344.1" r="1.40"/><circle cx="355.5" cy="343.8" r="1.20"/><circle cx="357.8" cy="343.8" r="1.20"/><circle cx="352.3" cy="348.8" r="1.90"/><circle cx="359.7" cy="348.8" r="1.20"/><circle cx="353.9" cy="354.2" r="1.20"/><circle cx="360.2" cy="353.4" r="1.40"/><circle cx="351.6" cy="358.9" r="1.70"/><circle cx="352.3" cy="365.9" r="1.40"/><circle cx="353.9" cy="371.4" r="1.90"/><circle cx="356.6" cy="374.5" r="1.10"/><circle cx="359.4" cy="372.2" r="1.10"/><circle cx="363.3" cy="372.5" r="1.20"/><circle cx="365.6" cy="367.0" r="1.20"/><circle cx="353.1" cy="378.4" r="1.40"/><circle cx="349.7" cy="368.3" r="1.90"/><circle cx="333.1" cy="379.2" r="1.10"/><circle cx="336.3" cy="381.6" r="1.40"/><circle cx="307.5" cy="371.4" r="1.10"/><circle cx="324.2" cy="371.4" r="1.20"/><circle cx="383.6" cy="379.7" r="1.20"/><circle cx="338.8" cy="375.3" r="1.70"/><circle cx="336.3" cy="369.8" r="1.40"/><circle cx="351.6" cy="332.3" r="1.90"/><circle cx="349.2" cy="330.8" r="1.40"/><circle cx="438.8" cy="380.8" r="1.10"/><circle cx="285.0" cy="288.9" r="1.10"/><circle cx="293.4" cy="291.4" r="1.40"/><circle cx="258.8" cy="300.7" r="1.10"/><circle cx="294.6" cy="302.9" r="1.40"/><circle cx="282.0" cy="311.8" r="1.10"/><circle cx="295.1" cy="313.8" r="1.20"/></g>
<g fill="#2a9a2a" fill-opacity="0.6" stroke="#000" stroke-opacity="0.7" stroke-width="0.45"><circle cx="346.0" cy="296.5" r="2.65"/><circle cx="346.1" cy="297.4" r="2.59"/><circle cx="350.8" cy="298.7" r="1.94"/><circle cx="348.9" cy="299.6" r="1.07"/><circle cx="346.9" cy="300.1" r="1.78"/><circle cx="348.8" cy="300.2" r="1.18"/><circle cx="347.6" cy="302.4" r="1.11"/><circle cx="352.9" cy="303.5" r="1.09"/><circle cx="347.7" cy="303.2" r="2.46"/><circle cx="347.8" cy="304.5" r="1.18"/><circle cx="352.7" cy="305.7" r="2.70"/><circle cx="348.0" cy="307.1" r="2.00"/><circle cx="349.9" cy="308.3" r="2.71"/><circle cx="352.9" cy="309.6" r="1.29"/><circle cx="347.7" cy="309.4" r="1.03"/><circle cx="349.4" cy="310.7" r="1.84"/><circle cx="351.5" cy="311.7" r="1.31"/><circle cx="348.4" cy="313.5" r="1.60"/><circle cx="347.3" cy="314.3" r="1.02"/><circle cx="350.4" cy="315.8" r="1.01"/><circle cx="348.1" cy="315.2" r="2.26"/><circle cx="344.0" cy="316.8" r="1.79"/><circle cx="348.6" cy="317.5" r="2.68"/><circle cx="347.9" cy="318.5" r="2.18"/><circle cx="352.2" cy="319.8" r="1.38"/><circle cx="345.6" cy="321.0" r="2.23"/><circle cx="350.4" cy="322.5" r="2.43"/><circle cx="349.8" cy="322.3" r="2.66"/><circle cx="349.2" cy="324.2" r="2.58"/><circle cx="347.8" cy="334.7" r="1.16"/><circle cx="349.3" cy="335.0" r="1.63"/><circle cx="344.2" cy="334.6" r="1.23"/><circle cx="346.7" cy="336.3" r="1.33"/><circle cx="344.8" cy="336.6" r="2.65"/><circle cx="343.2" cy="335.6" r="1.21"/><circle cx="346.1" cy="336.5" r="2.00"/><circle cx="343.7" cy="337.6" r="2.38"/><circle cx="346.8" cy="336.2" r="2.73"/><circle cx="348.0" cy="337.6" r="2.12"/><circle cx="343.7" cy="338.0" r="2.35"/><circle cx="345.7" cy="338.2" r="1.30"/><circle cx="348.0" cy="339.7" r="1.10"/><circle cx="347.8" cy="339.3" r="1.90"/><circle cx="347.0" cy="339.3" r="1.52"/><circle cx="347.4" cy="339.9" r="1.60"/><circle cx="348.7" cy="340.1" r="1.70"/><circle cx="348.1" cy="339.7" r="2.32"/><circle cx="347.3" cy="340.3" r="1.10"/><circle cx="344.0" cy="340.4" r="1.04"/><circle cx="344.8" cy="340.5" r="2.56"/><circle cx="344.3" cy="342.2" r="2.27"/><circle cx="347.3" cy="342.0" r="2.76"/><circle cx="343.5" cy="341.4" r="2.03"/><circle cx="347.7" cy="343.5" r="1.14"/><circle cx="344.7" cy="342.9" r="1.25"/><circle cx="343.8" cy="342.4" r="1.35"/><circle cx="347.8" cy="344.6" r="1.30"/><circle cx="349.9" cy="344.1" r="1.00"/><circle cx="349.9" cy="344.1" r="1.10"/><circle cx="347.5" cy="345.2" r="1.50"/><circle cx="348.5" cy="345.0" r="1.75"/><circle cx="345.2" cy="345.4" r="2.22"/><circle cx="346.2" cy="345.9" r="1.46"/><circle cx="344.4" cy="345.9" r="2.48"/><circle cx="344.6" cy="346.6" r="1.11"/><circle cx="347.4" cy="347.7" r="2.12"/><circle cx="348.8" cy="346.7" r="1.03"/><circle cx="347.9" cy="347.4" r="2.14"/><circle cx="342.0" cy="348.8" r="1.68"/><circle cx="347.2" cy="347.3" r="2.38"/><circle cx="345.2" cy="348.3" r="2.28"/><circle cx="346.9" cy="349.1" r="1.03"/><circle cx="347.0" cy="348.7" r="1.84"/><circle cx="348.6" cy="348.8" r="1.47"/><circle cx="344.5" cy="350.0" r="2.15"/><circle cx="346.0" cy="350.7" r="2.29"/><circle cx="345.7" cy="349.3" r="1.23"/><circle cx="345.5" cy="350.5" r="1.09"/><circle cx="347.1" cy="351.3" r="1.52"/><circle cx="348.7" cy="351.5" r="1.24"/><circle cx="348.1" cy="352.5" r="2.23"/><circle cx="344.8" cy="352.3" r="2.47"/><circle cx="345.5" cy="352.6" r="2.67"/><circle cx="348.5" cy="352.3" r="1.39"/><circle cx="349.9" cy="353.1" r="1.92"/><circle cx="341.4" cy="353.4" r="2.43"/><circle cx="344.7" cy="354.3" r="1.55"/><circle cx="348.5" cy="354.7" r="1.15"/><circle cx="345.9" cy="354.8" r="1.00"/><circle cx="342.7" cy="355.3" r="1.79"/><circle cx="347.6" cy="354.6" r="1.22"/><circle cx="347.4" cy="354.2" r="1.08"/><circle cx="347.7" cy="356.3" r="1.54"/><circle cx="347.6" cy="356.7" r="1.66"/><circle cx="345.6" cy="355.6" r="1.09"/><circle cx="343.7" cy="356.6" r="1.03"/><circle cx="345.3" cy="357.2" r="2.27"/><circle cx="342.4" cy="356.7" r="2.78"/><circle cx="345.1" cy="357.7" r="2.58"/><circle cx="348.3" cy="358.6" r="1.77"/><circle cx="345.5" cy="357.5" r="1.12"/><circle cx="349.5" cy="358.6" r="1.48"/><circle cx="344.6" cy="359.5" r="2.45"/><circle cx="347.7" cy="358.6" r="1.04"/><circle cx="345.5" cy="360.3" r="1.61"/><circle cx="345.9" cy="359.7" r="1.24"/><circle cx="348.4" cy="359.7" r="1.16"/><circle cx="345.9" cy="361.7" r="2.03"/><circle cx="343.3" cy="361.1" r="2.52"/><circle cx="344.5" cy="361.2" r="1.03"/><circle cx="345.2" cy="362.7" r="2.73"/><circle cx="344.1" cy="362.7" r="1.24"/><circle cx="345.4" cy="362.7" r="1.59"/><circle cx="347.9" cy="362.4" r="1.35"/><circle cx="341.9" cy="362.9" r="1.16"/><circle cx="346.0" cy="362.6" r="1.14"/><circle cx="344.0" cy="363.4" r="2.32"/><circle cx="345.4" cy="363.4" r="2.32"/><circle cx="347.3" cy="364.5" r="2.65"/><circle cx="347.4" cy="365.4" r="1.36"/><circle cx="345.6" cy="365.3" r="1.33"/><circle cx="341.0" cy="365.5" r="1.34"/><circle cx="342.4" cy="365.6" r="2.67"/><circle cx="344.7" cy="365.9" r="1.40"/><circle cx="346.9" cy="366.1" r="1.07"/><circle cx="341.4" cy="367.6" r="1.62"/><circle cx="345.2" cy="366.6" r="1.27"/><circle cx="344.9" cy="366.7" r="1.43"/><circle cx="345.6" cy="368.7" r="2.18"/><circle cx="346.7" cy="367.5" r="1.78"/><circle cx="343.3" cy="368.3" r="2.78"/><circle cx="344.9" cy="369.7" r="1.44"/><circle cx="348.0" cy="369.0" r="1.06"/><circle cx="344.2" cy="369.4" r="2.18"/><circle cx="343.9" cy="370.5" r="2.40"/><circle cx="348.4" cy="370.3" r="2.66"/><circle cx="346.3" cy="370.6" r="1.60"/><circle cx="345.4" cy="371.8" r="2.00"/><circle cx="343.4" cy="371.5" r="1.73"/><circle cx="343.1" cy="371.5" r="1.68"/><circle cx="343.8" cy="371.6" r="2.18"/><circle cx="342.6" cy="372.5" r="1.49"/><circle cx="343.4" cy="372.3" r="1.72"/><circle cx="343.2" cy="373.1" r="1.14"/><circle cx="346.0" cy="372.5" r="1.32"/><circle cx="344.2" cy="373.4" r="1.34"/><circle cx="343.2" cy="374.7" r="1.06"/><circle cx="346.8" cy="374.5" r="1.90"/><circle cx="341.4" cy="373.7" r="2.68"/><circle cx="345.1" cy="374.9" r="1.03"/><circle cx="347.7" cy="374.9" r="1.32"/><circle cx="344.8" cy="375.5" r="1.01"/><circle cx="343.1" cy="375.3" r="1.88"/><circle cx="347.1" cy="375.5" r="2.57"/><circle cx="343.3" cy="376.3" r="1.00"/><circle cx="345.8" cy="377.0" r="1.77"/><circle cx="346.0" cy="377.5" r="1.87"/><circle cx="346.5" cy="376.7" r="1.97"/><circle cx="344.0" cy="378.6" r="1.51"/><circle cx="346.3" cy="377.5" r="2.53"/><circle cx="345.1" cy="377.7" r="1.55"/><circle cx="344.0" cy="378.3" r="1.67"/><circle cx="344.1" cy="378.6" r="1.03"/><circle cx="344.4" cy="379.2" r="1.08"/><circle cx="341.5" cy="380.5" r="2.79"/><circle cx="346.7" cy="379.3" r="1.07"/><circle cx="346.3" cy="379.7" r="2.71"/><circle cx="342.3" cy="381.6" r="1.44"/><circle cx="345.1" cy="380.7" r="1.04"/><circle cx="344.8" cy="381.6" r="2.77"/><circle cx="346.9" cy="381.6" r="1.98"/><circle cx="343.5" cy="381.2" r="2.61"/><circle cx="346.5" cy="383.4" r="2.19"/><circle cx="343.4" cy="383.5" r="1.65"/><circle cx="343.2" cy="384.3" r="1.25"/><circle cx="345.6" cy="383.7" r="1.02"/><circle cx="346.9" cy="384.7" r="1.49"/><circle cx="344.8" cy="385.3" r="1.57"/><circle cx="345.3" cy="386.0" r="2.09"/><circle cx="346.3" cy="386.8" r="1.26"/><circle cx="345.0" cy="387.3" r="1.14"/><circle cx="343.3" cy="386.5" r="1.21"/></g>
<g fill="#2a9a2a" fill-opacity="0.55" stroke="#000" stroke-opacity="0.8" stroke-width="0.5"></g>
<g fill="#ff0000" fill-opacity="0.75" stroke="#000" stroke-opacity="0.7" stroke-width="0.45"><circle cx="347.2" cy="259.2" r="2.40"/><circle cx="357.7" cy="269.2" r="1.00"/></g>
<g fill="#4682B4" fill-opacity="0.68" stroke="#000" stroke-opacity="0.7" stroke-width="0.45"><circle cx="267.2" cy="240.0" r="1.30"/><circle cx="293.8" cy="242.2" r="1.20"/><circle cx="308.4" cy="237.0" r="1.30"/><circle cx="293.8" cy="246.9" r="1.20"/><circle cx="311.6" cy="256.0" r="1.30"/><circle cx="291.2" cy="253.9" r="1.20"/><circle cx="293.1" cy="254.9" r="1.20"/><circle cx="295.5" cy="257.8" r="1.20"/><circle cx="296.4" cy="260.3" r="1.20"/><circle cx="284.6" cy="265.6" r="1.20"/><circle cx="284.3" cy="268.8" r="1.20"/><circle cx="332.8" cy="268.2" r="1.30"/></g>
<text x="255.10" y="238.10" font-size="4.8" fill="#5b8ec7" textLength="15.54" lengthAdjust="spacingAndGlyphs">M00735</text>
<text x="279.90" y="239.50" font-size="4.8" fill="#5b8ec7" textLength="15.54" lengthAdjust="spacingAndGlyphs">M00530</text>
<text x="305.20" y="235.00" font-size="4.8" fill="#5b8ec7" textLength="15.54" lengthAdjust="spacingAndGlyphs">M00117</text>
<text x="275.50" y="249.30" font-size="4.8" fill="#5b8ec7" textLength="15.54" lengthAdjust="spacingAndGlyphs">M00213</text>
<text x="298.90" y="246.70" font-size="4.8" fill="#5b8ec7" textLength="15.54" lengthAdjust="spacingAndGlyphs">M00153</text>
<text x="295.30" y="254.00" font-size="4.8" fill="#5b8ec7" textLength="15.54" lengthAdjust="spacingAndGlyphs">M00870</text>
<text x="315.00" y="254.00" font-size="4.8" fill="#5b8ec7" textLength="15.54" lengthAdjust="spacingAndGlyphs">M00209</text>
<text x="273.40" y="256.90" font-size="4.8" fill="#5b8ec7" textLength="15.54" lengthAdjust="spacingAndGlyphs">M00320</text>
<text x="299.60" y="261.70" font-size="4.8" fill="#5b8ec7" textLength="15.54" lengthAdjust="spacingAndGlyphs">M00669</text>
<text x="267.20" y="264.40" font-size="4.8" fill="#5b8ec7" textLength="15.54" lengthAdjust="spacingAndGlyphs">M00080</text>
<text x="290.10" y="269.00" font-size="4.8" fill="#5b8ec7" textLength="15.54" lengthAdjust="spacingAndGlyphs">M00960</text>
<text x="270.40" y="274.90" font-size="4.8" fill="#5b8ec7" textLength="15.54" lengthAdjust="spacingAndGlyphs">M00646</text>
<text x="329.20" y="266.90" font-size="4.8" fill="#5b8ec7" textLength="15.54" lengthAdjust="spacingAndGlyphs">M00129</text>
<text x="336.10" y="263.90" font-size="4.8" fill="#f03030" textLength="15.54" lengthAdjust="spacingAndGlyphs">M00716</text>
<text x="354.80" y="274.70" font-size="4.8" fill="#f03030" textLength="15.54" lengthAdjust="spacingAndGlyphs">M00048</text>
<line x1="297.00" y1="246.30" x2="302.00" y2="244.50" stroke="#5b8ec7" stroke-width="0.5"/>
<line x1="292.30" y1="249.00" x2="292.30" y2="253.50" stroke="#5b8ec7" stroke-width="0.5"/>
<line x1="297.20" y1="262.00" x2="297.20" y2="266.00" stroke="#5b8ec7" stroke-width="0.5"/>
<rect x="389.8" y="228.4" width="65.4" height="93.5" fill="#fff" stroke="#555" stroke-width="0.9"/>
<text x="417.00" y="238.76" font-size="7.5" text-anchor="middle" fill="#222">Group</text>
<circle cx="409" cy="248.5" r="2.6" fill="#e8474a" stroke="#444" stroke-width="0.4"/>
<text x="414.80" y="251.16" font-size="7.5" text-anchor="start" fill="#222">Control</text>
<circle cx="409" cy="258.5" r="2.6" fill="#6f9ac8" stroke="#444" stroke-width="0.4"/>
<text x="414.80" y="261.16" font-size="7.5" text-anchor="start" fill="#222">Disease</text>
<text x="422.90" y="282.86" font-size="7.5" text-anchor="middle" fill="#222">Avg. abundance</text>
<circle cx="414.3" cy="292.3" r="1.9" fill="none" stroke="#444" stroke-width="0.5"/>
<text x="420.90" y="294.96" font-size="7.5" text-anchor="start" fill="#222">0.01</text>
<circle cx="414.3" cy="302.6" r="2.9" fill="none" stroke="#444" stroke-width="0.5"/>
<text x="420.90" y="305.26" font-size="7.5" text-anchor="start" fill="#222">0.02</text>
<circle cx="414.3" cy="313.2" r="3.4" fill="none" stroke="#444" stroke-width="0.5"/>
<text x="420.90" y="315.86" font-size="7.5" text-anchor="start" fill="#222">0.03</text>
<text x="470.2" y="218.6" font-size="14" fill="#000">f</text>
<line x1="498.50" y1="207.90" x2="684.60" y2="207.90" stroke="#bdbdbd" stroke-width="1.4"/>
<line x1="498.50" y1="207.20" x2="498.50" y2="393.90" stroke="#555" stroke-width="1.0"/>
<line x1="498.00" y1="393.40" x2="684.60" y2="393.40" stroke="#555" stroke-width="1.0"/>
<line x1="684.30" y1="207.20" x2="684.30" y2="393.90" stroke="#666" stroke-width="1.0"/>
<line x1="493.40" y1="386.50" x2="498.50" y2="386.50" stroke="#666" stroke-width="0.9"/>
<text x="487.60" y="389.73" font-size="9.10" text-anchor="middle" fill="#1a1a1a" textLength="3.89" lengthAdjust="spacingAndGlyphs" transform="rotate(-90 487.60 386.50)">0</text>
<line x1="677.60" y1="393.90" x2="677.60" y2="398.60" stroke="#aaa" stroke-width="1.0"/>
<text x="677.60" y="406.15" font-size="9.15" text-anchor="middle" fill="#1a1a1a" textLength="4.17" lengthAdjust="spacingAndGlyphs">0</text>
<line x1="493.40" y1="352.16" x2="498.50" y2="352.16" stroke="#666" stroke-width="0.9"/>
<text x="487.60" y="355.39" font-size="9.10" text-anchor="middle" fill="#1a1a1a" textLength="7.79" lengthAdjust="spacingAndGlyphs" transform="rotate(-90 487.60 352.16)">20</text>
<line x1="643.22" y1="393.90" x2="643.22" y2="398.60" stroke="#aaa" stroke-width="1.0"/>
<text x="643.22" y="406.15" font-size="9.15" text-anchor="middle" fill="#1a1a1a" textLength="8.34" lengthAdjust="spacingAndGlyphs">20</text>
<line x1="493.40" y1="317.82" x2="498.50" y2="317.82" stroke="#666" stroke-width="0.9"/>
<text x="487.60" y="321.05" font-size="9.10" text-anchor="middle" fill="#1a1a1a" textLength="7.79" lengthAdjust="spacingAndGlyphs" transform="rotate(-90 487.60 317.82)">40</text>
<line x1="608.84" y1="393.90" x2="608.84" y2="398.60" stroke="#aaa" stroke-width="1.0"/>
<text x="608.84" y="406.15" font-size="9.15" text-anchor="middle" fill="#1a1a1a" textLength="8.34" lengthAdjust="spacingAndGlyphs">40</text>
<line x1="493.40" y1="283.48" x2="498.50" y2="283.48" stroke="#666" stroke-width="0.9"/>
<text x="487.60" y="286.71" font-size="9.10" text-anchor="middle" fill="#1a1a1a" textLength="7.79" lengthAdjust="spacingAndGlyphs" transform="rotate(-90 487.60 283.48)">60</text>
<line x1="574.46" y1="393.90" x2="574.46" y2="398.60" stroke="#aaa" stroke-width="1.0"/>
<text x="574.46" y="406.15" font-size="9.15" text-anchor="middle" fill="#1a1a1a" textLength="8.34" lengthAdjust="spacingAndGlyphs">60</text>
<line x1="493.40" y1="249.14" x2="498.50" y2="249.14" stroke="#666" stroke-width="0.9"/>
<text x="487.60" y="252.37" font-size="9.10" text-anchor="middle" fill="#1a1a1a" textLength="7.79" lengthAdjust="spacingAndGlyphs" transform="rotate(-90 487.60 249.14)">80</text>
<line x1="540.08" y1="393.90" x2="540.08" y2="398.60" stroke="#aaa" stroke-width="1.0"/>
<text x="540.08" y="406.15" font-size="9.15" text-anchor="middle" fill="#1a1a1a" textLength="8.34" lengthAdjust="spacingAndGlyphs">80</text>
<line x1="493.40" y1="214.80" x2="498.50" y2="214.80" stroke="#666" stroke-width="0.9"/>
<text x="487.60" y="218.03" font-size="9.10" text-anchor="middle" fill="#1a1a1a" textLength="11.68" lengthAdjust="spacingAndGlyphs" transform="rotate(-90 487.60 214.80)">100</text>
<line x1="505.70" y1="393.90" x2="505.70" y2="398.60" stroke="#aaa" stroke-width="1.0"/>
<text x="505.70" y="406.15" font-size="9.15" text-anchor="middle" fill="#1a1a1a" textLength="12.51" lengthAdjust="spacingAndGlyphs">100</text>
<text x="589.30" y="414.66" font-size="7.5" text-anchor="middle" fill="#1a1a1a">Specificity (%)</text>
<text x="476.60" y="304.94" font-size="7.45" text-anchor="middle" fill="#1a1a1a" transform="rotate(-90 476.60 302.30)">Sensitivity (%)</text>
<line x1="498.50" y1="393.40" x2="684.30" y2="207.90" stroke="#c8c8c8" stroke-width="0.9"/>
<polyline points="506.8,386.1 507.9,385.0 508.9,382.3 510.6,380.7 511.6,379.1 512.7,377.4 513.8,375.8 514.9,374.2 516.5,372.6 517.6,369.9 518.1,367.7 519.2,366.1 520.8,364.5 521.9,362.8 522.5,361.2 523.5,359.1 524.6,357.4 525.7,355.8 526.8,354.2 528.4,352.6 528.8,349.3 530.6,346.9 532.4,345.1 534.2,343.3 536.0,341.5 537.8,339.1 539.6,336.7 541.4,334.3 543.2,331.9 545.0,330.0 546.9,328.2 548.7,326.4 550.5,324.0 551.7,321.0 552.9,319.2 554.7,317.4 556.5,315.0 557.1,313.2 558.9,312.0 560.7,311.4 562.5,310.8 564.3,310.2 568.4,304.3 569.0,301.3 570.8,300.1 573.2,299.5 575.0,298.3 577.4,297.1 579.8,295.9 582.2,294.1 584.6,291.1 586.4,288.1 588.2,285.0 590.0,283.8 592.5,282.6 594.3,280.8 596.1,279.0 597.9,277.2 599.7,275.4 601.5,273.6 603.3,273.0 605.0,267.2 609.0,264.6 612.9,262.0 615.6,260.0 619.6,257.3 622.2,254.7 624.8,252.7 627.5,252.7 629.5,251.4 631.5,248.7 634.1,246.7 636.7,244.8 639.4,242.8 642.0,240.8 644.7,239.5 647.3,236.8 650.0,234.8 652.6,232.2 655.3,230.9 657.9,228.9 660.6,228.9 663.2,228.2 665.8,225.6 668.5,222.9 671.1,220.3 673.8,218.3 677.1,215.7" fill="none" stroke="#ff3030" stroke-width="0.9" stroke-linejoin="round"/>
<polyline points="506.8,386.1 508.9,382.3 510.6,378.5 512.2,376.4 513.3,374.7 513.8,372.0 514.9,369.9 515.4,367.7 516.5,366.6 517.1,363.9 518.1,362.3 519.2,361.2 520.3,361.2 521.9,360.1 522.5,358.0 523.5,355.8 524.1,354.7 525.2,351.5 525.7,349.3 526.2,348.8 527.3,347.7 529.4,347.5 531.8,345.7 534.2,344.5 536.0,342.1 536.6,338.5 537.2,336.7 539.0,336.1 540.2,335.5 542.6,333.7 544.4,330.6 546.3,328.2 548.1,327.0 549.9,325.8 551.1,324.6 553.5,324.6 554.7,323.4 555.9,322.2 557.7,322.2 557.7,318.6 558.9,316.8 560.1,315.0 561.9,314.4 563.1,312.6 564.3,311.4 570.2,304.3 572.0,302.5 573.2,300.7 574.4,298.3 576.8,297.7 579.2,295.9 582.2,293.5 584.0,291.1 585.2,287.5 585.8,285.0 587.0,283.8 589.4,283.2 591.3,282.0 593.1,279.6 594.9,277.2 596.1,274.8 598.5,273.6 600.3,272.4 602.1,271.8 604.5,271.2 606.3,268.8 607.0,269.2 608.3,264.6 610.3,260.0 613.0,256.5 677.1,215.7" fill="none" stroke="#30e8e8" stroke-width="0.9" stroke-linejoin="round"/>
<polyline points="506.8,386.1 506.8,373.1 507.9,372.6 507.9,367.2 508.9,366.6 508.9,365.5 510.0,365.0 510.0,358.5 511.6,358.5 513.3,358.0 514.4,356.4 516.0,355.8 517.1,354.7 518.7,353.6 520.3,352.6 521.9,351.0 523.0,350.2 524.0,349.3 525.8,348.1 528.2,348.1 529.4,346.9 531.2,345.7 533.0,343.9 534.8,342.1 536.6,339.7 538.4,337.9 540.2,336.1 542.0,334.3 543.8,331.9 545.6,330.0 547.5,328.2 549.3,325.8 550.5,323.4 550.5,319.8 551.1,316.8 552.9,313.8 554.7,312.0 556.5,312.0 556.5,309.6 557.7,307.8 560.1,305.4 561.2,303.1 563.6,300.7 567.2,300.1 570.2,298.3 573.2,298.3 575.6,296.5 577.4,294.7 578.6,291.1 579.8,287.5 581.0,284.4 582.2,282.4 584.0,281.4 585.8,280.2 587.6,278.4 590.0,276.0 592.5,273.6 594.9,271.8 597.3,269.4 599.7,267.0 602.1,265.2 604.5,263.4 606.9,261.6 610.0,259.8 677.1,215.7" fill="none" stroke="#4444ee" stroke-width="0.9" stroke-linejoin="round"/>
<polyline points="506.8,386.1 507.9,381.8 508.4,376.4 509.5,375.8 510.6,374.2 511.1,372.0 511.6,370.9 512.2,366.6 513.3,363.4 513.8,361.8 514.9,360.7 516.0,359.1 516.5,356.4 517.1,355.3 518.1,353.6 518.7,352.6 519.8,350.4 521.0,345.1 522.8,342.1 524.0,339.7 525.8,337.3 527.0,335.5 528.8,334.3 530.6,332.5 532.4,331.3 533.6,328.8 535.4,327.0 537.2,325.2 539.0,324.6 540.8,323.4 542.6,322.2 545.0,320.4 547.5,318.6 549.9,318.0 551.1,316.8 552.3,314.4 554.1,312.6 555.9,310.8 557.1,309.0 558.3,307.2 559.5,306.0 560.7,304.2 562.5,302.4 564.2,303.1 564.8,297.1 566.6,294.7 569.0,294.1 571.4,294.1 573.2,291.7 575.0,287.5 576.8,284.4 578.0,279.6 579.2,276.6 581.0,274.2 582.2,270.6 584.0,268.2 587.0,267.0 589.4,265.8 591.9,264.0 594.9,262.2 597.3,262.2 599.7,261.0 602.1,259.8 604.5,258.6 607.5,256.8 610.0,255.6 677.1,215.7" fill="none" stroke="#40dd40" stroke-width="0.9" stroke-linejoin="round"/>
<line x1="558.90" y1="339.90" x2="580.00" y2="339.90" stroke="#ff1a1a" stroke-width="0.8"/>
<text x="583.90" y="342.56" font-size="7.5" text-anchor="start" fill="#222">GDM, AUC = 0.57</text>
<line x1="558.90" y1="350.85" x2="580.00" y2="350.85" stroke="#22dd22" stroke-width="0.8"/>
<text x="583.90" y="353.51" font-size="7.5" text-anchor="start" fill="#222">Hepatopathy, AUC = 0.63</text>
<line x1="558.90" y1="361.80" x2="580.00" y2="361.80" stroke="#2e2eee" stroke-width="0.8"/>
<text x="583.90" y="364.46" font-size="7.5" text-anchor="start" fill="#222">Thalassemia, AUC = 0.60</text>
<line x1="558.90" y1="372.75" x2="580.00" y2="372.75" stroke="#1ae6e6" stroke-width="0.8"/>
<text x="583.90" y="375.41" font-size="7.5" text-anchor="start" fill="#222">Thyroid disease, AUC = 0.58</text>
</g></svg></div></body></html>
